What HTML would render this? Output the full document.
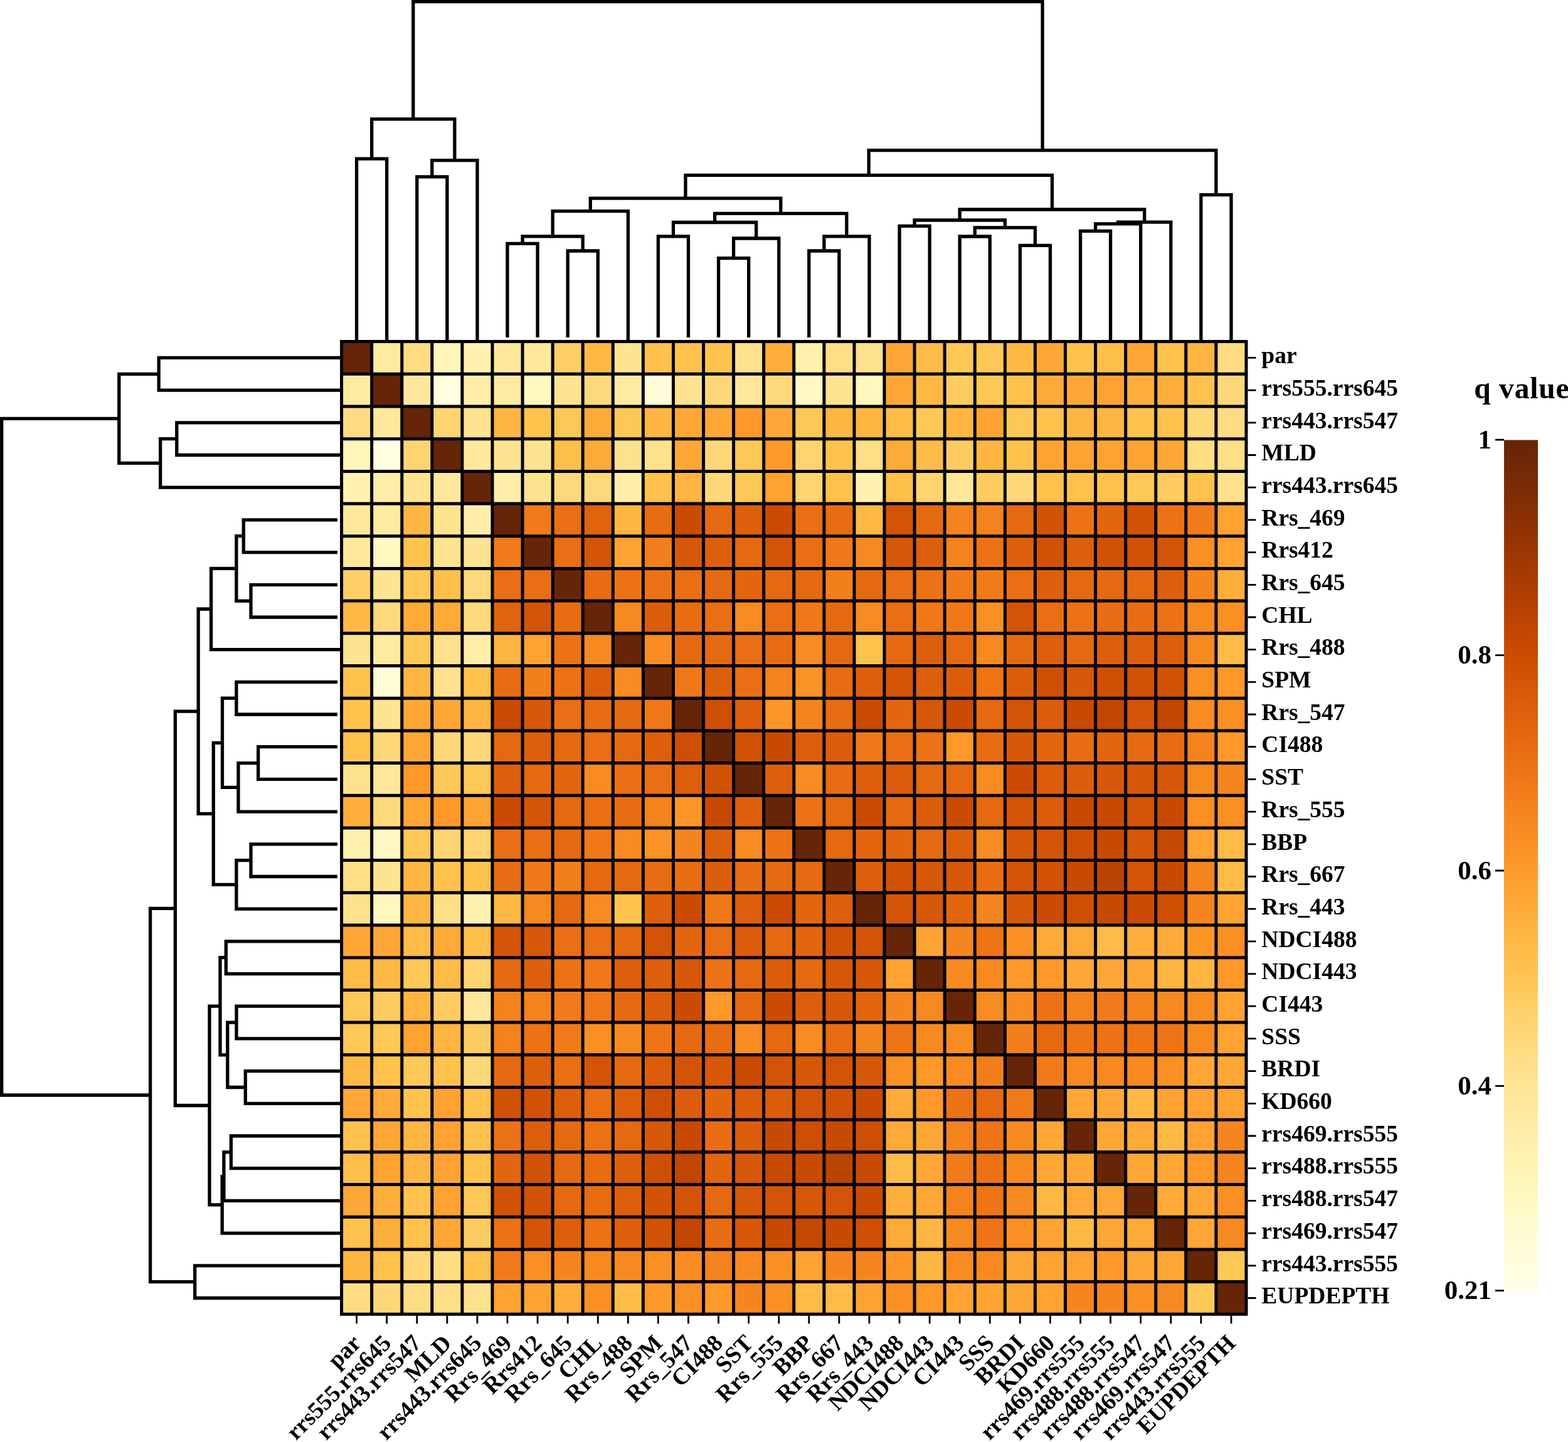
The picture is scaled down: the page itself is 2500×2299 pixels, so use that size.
<!DOCTYPE html><html><head><meta charset="utf-8"><style>html,body{margin:0;padding:0;background:#fff;width:2500px;height:2299px;overflow:hidden}svg{display:block}text{font-family:"Liberation Serif","Times New Roman",serif;font-weight:bold;fill:#000}</style></head><body>
<svg width="2500" height="2299" viewBox="0 0 2500 2299">
<rect width="2500" height="2299" fill="#fff"/>
<rect x="544.6" y="544.6" width="48.38" height="51.99" fill="#662506"/>
<rect x="592.7" y="544.6" width="48.38" height="51.99" fill="#feeba2"/>
<rect x="640.8" y="544.6" width="48.38" height="51.99" fill="#fedc82"/>
<rect x="688.8" y="544.6" width="48.38" height="51.99" fill="#fff5b8"/>
<rect x="736.9" y="544.6" width="48.38" height="51.99" fill="#fff2b1"/>
<rect x="785.0" y="544.6" width="48.38" height="51.99" fill="#fee89b"/>
<rect x="833.1" y="544.6" width="48.38" height="51.99" fill="#fee89b"/>
<rect x="881.2" y="544.6" width="48.38" height="51.99" fill="#fecf67"/>
<rect x="929.2" y="544.6" width="48.38" height="51.99" fill="#feb945"/>
<rect x="977.3" y="544.6" width="48.38" height="51.99" fill="#fee390"/>
<rect x="1025.4" y="544.6" width="48.38" height="51.99" fill="#fec24d"/>
<rect x="1073.5" y="544.6" width="48.38" height="51.99" fill="#fec24d"/>
<rect x="1121.6" y="544.6" width="48.38" height="51.99" fill="#fec24d"/>
<rect x="1169.6" y="544.6" width="48.38" height="51.99" fill="#fee18c"/>
<rect x="1217.7" y="544.6" width="48.38" height="51.99" fill="#feae3b"/>
<rect x="1265.8" y="544.6" width="48.38" height="51.99" fill="#fff0ad"/>
<rect x="1313.9" y="544.6" width="48.38" height="51.99" fill="#fede86"/>
<rect x="1362.0" y="544.6" width="48.38" height="51.99" fill="#fee18c"/>
<rect x="1410.0" y="544.6" width="48.38" height="51.99" fill="#fea736"/>
<rect x="1458.1" y="544.6" width="48.38" height="51.99" fill="#febb47"/>
<rect x="1506.2" y="544.6" width="48.38" height="51.99" fill="#fec857"/>
<rect x="1554.3" y="544.6" width="48.38" height="51.99" fill="#fec857"/>
<rect x="1602.4" y="544.6" width="48.38" height="51.99" fill="#feb945"/>
<rect x="1650.4" y="544.6" width="48.38" height="51.99" fill="#fea736"/>
<rect x="1698.5" y="544.6" width="48.38" height="51.99" fill="#fec24d"/>
<rect x="1746.6" y="544.6" width="48.38" height="51.99" fill="#febf4b"/>
<rect x="1794.7" y="544.6" width="48.38" height="51.99" fill="#fea736"/>
<rect x="1842.8" y="544.6" width="48.38" height="51.99" fill="#fec24d"/>
<rect x="1890.8" y="544.6" width="48.38" height="51.99" fill="#feb541"/>
<rect x="1938.9" y="544.6" width="48.38" height="51.99" fill="#fedc82"/>
<rect x="544.6" y="596.3" width="48.38" height="51.99" fill="#feeba2"/>
<rect x="592.7" y="596.3" width="48.38" height="51.99" fill="#662506"/>
<rect x="640.8" y="596.3" width="48.38" height="51.99" fill="#fee89b"/>
<rect x="688.8" y="596.3" width="48.38" height="51.99" fill="#fffedf"/>
<rect x="736.9" y="596.3" width="48.38" height="51.99" fill="#feeda6"/>
<rect x="785.0" y="596.3" width="48.38" height="51.99" fill="#feeaa0"/>
<rect x="833.1" y="596.3" width="48.38" height="51.99" fill="#fff8c1"/>
<rect x="881.2" y="596.3" width="48.38" height="51.99" fill="#fee390"/>
<rect x="929.2" y="596.3" width="48.38" height="51.99" fill="#fed97c"/>
<rect x="977.3" y="596.3" width="48.38" height="51.99" fill="#feeaa0"/>
<rect x="1025.4" y="596.3" width="48.38" height="51.99" fill="#fffcd8"/>
<rect x="1073.5" y="596.3" width="48.38" height="51.99" fill="#fee390"/>
<rect x="1121.6" y="596.3" width="48.38" height="51.99" fill="#fed778"/>
<rect x="1169.6" y="596.3" width="48.38" height="51.99" fill="#fee799"/>
<rect x="1217.7" y="596.3" width="48.38" height="51.99" fill="#fed97c"/>
<rect x="1265.8" y="596.3" width="48.38" height="51.99" fill="#fff9c5"/>
<rect x="1313.9" y="596.3" width="48.38" height="51.99" fill="#fee390"/>
<rect x="1362.0" y="596.3" width="48.38" height="51.99" fill="#fff7be"/>
<rect x="1410.0" y="596.3" width="48.38" height="51.99" fill="#fea736"/>
<rect x="1458.1" y="596.3" width="48.38" height="51.99" fill="#feb945"/>
<rect x="1506.2" y="596.3" width="48.38" height="51.99" fill="#fecc61"/>
<rect x="1554.3" y="596.3" width="48.38" height="51.99" fill="#fec857"/>
<rect x="1602.4" y="596.3" width="48.38" height="51.99" fill="#fec24d"/>
<rect x="1650.4" y="596.3" width="48.38" height="51.99" fill="#feaa38"/>
<rect x="1698.5" y="596.3" width="48.38" height="51.99" fill="#fea736"/>
<rect x="1746.6" y="596.3" width="48.38" height="51.99" fill="#fea332"/>
<rect x="1794.7" y="596.3" width="48.38" height="51.99" fill="#feae3b"/>
<rect x="1842.8" y="596.3" width="48.38" height="51.99" fill="#feae3b"/>
<rect x="1890.8" y="596.3" width="48.38" height="51.99" fill="#fec24d"/>
<rect x="1938.9" y="596.3" width="48.38" height="51.99" fill="#fed778"/>
<rect x="544.6" y="648.0" width="48.38" height="51.99" fill="#fedc82"/>
<rect x="592.7" y="648.0" width="48.38" height="51.99" fill="#fee89b"/>
<rect x="640.8" y="648.0" width="48.38" height="51.99" fill="#662506"/>
<rect x="688.8" y="648.0" width="48.38" height="51.99" fill="#fed471"/>
<rect x="736.9" y="648.0" width="48.38" height="51.99" fill="#fee390"/>
<rect x="785.0" y="648.0" width="48.38" height="51.99" fill="#feb541"/>
<rect x="833.1" y="648.0" width="48.38" height="51.99" fill="#fec24d"/>
<rect x="881.2" y="648.0" width="48.38" height="51.99" fill="#fec857"/>
<rect x="929.2" y="648.0" width="48.38" height="51.99" fill="#feaa38"/>
<rect x="977.3" y="648.0" width="48.38" height="51.99" fill="#fec857"/>
<rect x="1025.4" y="648.0" width="48.38" height="51.99" fill="#feb541"/>
<rect x="1073.5" y="648.0" width="48.38" height="51.99" fill="#fea736"/>
<rect x="1121.6" y="648.0" width="48.38" height="51.99" fill="#fea736"/>
<rect x="1169.6" y="648.0" width="48.38" height="51.99" fill="#fe9829"/>
<rect x="1217.7" y="648.0" width="48.38" height="51.99" fill="#fea736"/>
<rect x="1265.8" y="648.0" width="48.38" height="51.99" fill="#fec857"/>
<rect x="1313.9" y="648.0" width="48.38" height="51.99" fill="#feb541"/>
<rect x="1362.0" y="648.0" width="48.38" height="51.99" fill="#feb541"/>
<rect x="1410.0" y="648.0" width="48.38" height="51.99" fill="#febb47"/>
<rect x="1458.1" y="648.0" width="48.38" height="51.99" fill="#fec857"/>
<rect x="1506.2" y="648.0" width="48.38" height="51.99" fill="#feb541"/>
<rect x="1554.3" y="648.0" width="48.38" height="51.99" fill="#fea332"/>
<rect x="1602.4" y="648.0" width="48.38" height="51.99" fill="#fec857"/>
<rect x="1650.4" y="648.0" width="48.38" height="51.99" fill="#fec24d"/>
<rect x="1698.5" y="648.0" width="48.38" height="51.99" fill="#feb541"/>
<rect x="1746.6" y="648.0" width="48.38" height="51.99" fill="#feb541"/>
<rect x="1794.7" y="648.0" width="48.38" height="51.99" fill="#fec24d"/>
<rect x="1842.8" y="648.0" width="48.38" height="51.99" fill="#fec24d"/>
<rect x="1890.8" y="648.0" width="48.38" height="51.99" fill="#fed778"/>
<rect x="1938.9" y="648.0" width="48.38" height="51.99" fill="#fedc82"/>
<rect x="544.6" y="699.7" width="48.38" height="51.99" fill="#fff5b8"/>
<rect x="592.7" y="699.7" width="48.38" height="51.99" fill="#fffedf"/>
<rect x="640.8" y="699.7" width="48.38" height="51.99" fill="#fed471"/>
<rect x="688.8" y="699.7" width="48.38" height="51.99" fill="#662506"/>
<rect x="736.9" y="699.7" width="48.38" height="51.99" fill="#fee89b"/>
<rect x="785.0" y="699.7" width="48.38" height="51.99" fill="#fee390"/>
<rect x="833.1" y="699.7" width="48.38" height="51.99" fill="#fee390"/>
<rect x="881.2" y="699.7" width="48.38" height="51.99" fill="#febf4b"/>
<rect x="929.2" y="699.7" width="48.38" height="51.99" fill="#feaa38"/>
<rect x="977.3" y="699.7" width="48.38" height="51.99" fill="#fee18c"/>
<rect x="1025.4" y="699.7" width="48.38" height="51.99" fill="#fee18c"/>
<rect x="1073.5" y="699.7" width="48.38" height="51.99" fill="#fea736"/>
<rect x="1121.6" y="699.7" width="48.38" height="51.99" fill="#fed778"/>
<rect x="1169.6" y="699.7" width="48.38" height="51.99" fill="#fec857"/>
<rect x="1217.7" y="699.7" width="48.38" height="51.99" fill="#fe9829"/>
<rect x="1265.8" y="699.7" width="48.38" height="51.99" fill="#fed471"/>
<rect x="1313.9" y="699.7" width="48.38" height="51.99" fill="#fec24d"/>
<rect x="1362.0" y="699.7" width="48.38" height="51.99" fill="#fede86"/>
<rect x="1410.0" y="699.7" width="48.38" height="51.99" fill="#feaa38"/>
<rect x="1458.1" y="699.7" width="48.38" height="51.99" fill="#febb47"/>
<rect x="1506.2" y="699.7" width="48.38" height="51.99" fill="#fecc61"/>
<rect x="1554.3" y="699.7" width="48.38" height="51.99" fill="#feb541"/>
<rect x="1602.4" y="699.7" width="48.38" height="51.99" fill="#fec24d"/>
<rect x="1650.4" y="699.7" width="48.38" height="51.99" fill="#fea332"/>
<rect x="1698.5" y="699.7" width="48.38" height="51.99" fill="#fea332"/>
<rect x="1746.6" y="699.7" width="48.38" height="51.99" fill="#fea332"/>
<rect x="1794.7" y="699.7" width="48.38" height="51.99" fill="#fea332"/>
<rect x="1842.8" y="699.7" width="48.38" height="51.99" fill="#fea736"/>
<rect x="1890.8" y="699.7" width="48.38" height="51.99" fill="#fedc82"/>
<rect x="1938.9" y="699.7" width="48.38" height="51.99" fill="#fede86"/>
<rect x="544.6" y="751.4" width="48.38" height="51.99" fill="#fff2b1"/>
<rect x="592.7" y="751.4" width="48.38" height="51.99" fill="#feeda6"/>
<rect x="640.8" y="751.4" width="48.38" height="51.99" fill="#fee390"/>
<rect x="688.8" y="751.4" width="48.38" height="51.99" fill="#fee89b"/>
<rect x="736.9" y="751.4" width="48.38" height="51.99" fill="#662506"/>
<rect x="785.0" y="751.4" width="48.38" height="51.99" fill="#ffeea9"/>
<rect x="833.1" y="751.4" width="48.38" height="51.99" fill="#fee390"/>
<rect x="881.2" y="751.4" width="48.38" height="51.99" fill="#fed97c"/>
<rect x="929.2" y="751.4" width="48.38" height="51.99" fill="#fed97c"/>
<rect x="977.3" y="751.4" width="48.38" height="51.99" fill="#ffeea9"/>
<rect x="1025.4" y="751.4" width="48.38" height="51.99" fill="#fec24d"/>
<rect x="1073.5" y="751.4" width="48.38" height="51.99" fill="#feb541"/>
<rect x="1121.6" y="751.4" width="48.38" height="51.99" fill="#fed778"/>
<rect x="1169.6" y="751.4" width="48.38" height="51.99" fill="#fec857"/>
<rect x="1217.7" y="751.4" width="48.38" height="51.99" fill="#fea332"/>
<rect x="1265.8" y="751.4" width="48.38" height="51.99" fill="#fed471"/>
<rect x="1313.9" y="751.4" width="48.38" height="51.99" fill="#fec24d"/>
<rect x="1362.0" y="751.4" width="48.38" height="51.99" fill="#fff2b1"/>
<rect x="1410.0" y="751.4" width="48.38" height="51.99" fill="#febf4b"/>
<rect x="1458.1" y="751.4" width="48.38" height="51.99" fill="#fed471"/>
<rect x="1506.2" y="751.4" width="48.38" height="51.99" fill="#fee799"/>
<rect x="1554.3" y="751.4" width="48.38" height="51.99" fill="#fecc61"/>
<rect x="1602.4" y="751.4" width="48.38" height="51.99" fill="#fed778"/>
<rect x="1650.4" y="751.4" width="48.38" height="51.99" fill="#fec24d"/>
<rect x="1698.5" y="751.4" width="48.38" height="51.99" fill="#fec24d"/>
<rect x="1746.6" y="751.4" width="48.38" height="51.99" fill="#fec24d"/>
<rect x="1794.7" y="751.4" width="48.38" height="51.99" fill="#fec857"/>
<rect x="1842.8" y="751.4" width="48.38" height="51.99" fill="#fecc61"/>
<rect x="1890.8" y="751.4" width="48.38" height="51.99" fill="#fec24d"/>
<rect x="1938.9" y="751.4" width="48.38" height="51.99" fill="#fee18c"/>
<rect x="544.6" y="803.0" width="48.38" height="51.99" fill="#fee89b"/>
<rect x="592.7" y="803.0" width="48.38" height="51.99" fill="#feeaa0"/>
<rect x="640.8" y="803.0" width="48.38" height="51.99" fill="#feb541"/>
<rect x="688.8" y="803.0" width="48.38" height="51.99" fill="#fee390"/>
<rect x="736.9" y="803.0" width="48.38" height="51.99" fill="#ffeea9"/>
<rect x="785.0" y="803.0" width="48.38" height="51.99" fill="#662506"/>
<rect x="833.1" y="803.0" width="48.38" height="51.99" fill="#f17b1a"/>
<rect x="881.2" y="803.0" width="48.38" height="51.99" fill="#ea6e13"/>
<rect x="929.2" y="803.0" width="48.38" height="51.99" fill="#e0630d"/>
<rect x="977.3" y="803.0" width="48.38" height="51.99" fill="#feb541"/>
<rect x="1025.4" y="803.0" width="48.38" height="51.99" fill="#e86c12"/>
<rect x="1073.5" y="803.0" width="48.38" height="51.99" fill="#cb4b02"/>
<rect x="1121.6" y="803.0" width="48.38" height="51.99" fill="#e56910"/>
<rect x="1169.6" y="803.0" width="48.38" height="51.99" fill="#dd5f0c"/>
<rect x="1217.7" y="803.0" width="48.38" height="51.99" fill="#cb4b02"/>
<rect x="1265.8" y="803.0" width="48.38" height="51.99" fill="#ea6e13"/>
<rect x="1313.9" y="803.0" width="48.38" height="51.99" fill="#e86c12"/>
<rect x="1362.0" y="803.0" width="48.38" height="51.99" fill="#feb945"/>
<rect x="1410.0" y="803.0" width="48.38" height="51.99" fill="#d35406"/>
<rect x="1458.1" y="803.0" width="48.38" height="51.99" fill="#e56910"/>
<rect x="1506.2" y="803.0" width="48.38" height="51.99" fill="#f4821d"/>
<rect x="1554.3" y="803.0" width="48.38" height="51.99" fill="#f4821d"/>
<rect x="1602.4" y="803.0" width="48.38" height="51.99" fill="#e56910"/>
<rect x="1650.4" y="803.0" width="48.38" height="51.99" fill="#d15205"/>
<rect x="1698.5" y="803.0" width="48.38" height="51.99" fill="#ed7215"/>
<rect x="1746.6" y="803.0" width="48.38" height="51.99" fill="#e3660f"/>
<rect x="1794.7" y="803.0" width="48.38" height="51.99" fill="#d15205"/>
<rect x="1842.8" y="803.0" width="48.38" height="51.99" fill="#ed7215"/>
<rect x="1890.8" y="803.0" width="48.38" height="51.99" fill="#f17b1a"/>
<rect x="1938.9" y="803.0" width="48.38" height="51.99" fill="#fea332"/>
<rect x="544.6" y="854.7" width="48.38" height="51.99" fill="#fee89b"/>
<rect x="592.7" y="854.7" width="48.38" height="51.99" fill="#fff8c1"/>
<rect x="640.8" y="854.7" width="48.38" height="51.99" fill="#fec24d"/>
<rect x="688.8" y="854.7" width="48.38" height="51.99" fill="#fee390"/>
<rect x="736.9" y="854.7" width="48.38" height="51.99" fill="#fee390"/>
<rect x="785.0" y="854.7" width="48.38" height="51.99" fill="#f17b1a"/>
<rect x="833.1" y="854.7" width="48.38" height="51.99" fill="#662506"/>
<rect x="881.2" y="854.7" width="48.38" height="51.99" fill="#ea6e13"/>
<rect x="929.2" y="854.7" width="48.38" height="51.99" fill="#d35406"/>
<rect x="977.3" y="854.7" width="48.38" height="51.99" fill="#fea332"/>
<rect x="1025.4" y="854.7" width="48.38" height="51.99" fill="#f27f1b"/>
<rect x="1073.5" y="854.7" width="48.38" height="51.99" fill="#d65808"/>
<rect x="1121.6" y="854.7" width="48.38" height="51.99" fill="#dd5f0c"/>
<rect x="1169.6" y="854.7" width="48.38" height="51.99" fill="#e56910"/>
<rect x="1217.7" y="854.7" width="48.38" height="51.99" fill="#d35406"/>
<rect x="1265.8" y="854.7" width="48.38" height="51.99" fill="#ea6e13"/>
<rect x="1313.9" y="854.7" width="48.38" height="51.99" fill="#f07818"/>
<rect x="1362.0" y="854.7" width="48.38" height="51.99" fill="#f78921"/>
<rect x="1410.0" y="854.7" width="48.38" height="51.99" fill="#d65808"/>
<rect x="1458.1" y="854.7" width="48.38" height="51.99" fill="#dd5f0c"/>
<rect x="1506.2" y="854.7" width="48.38" height="51.99" fill="#f4821d"/>
<rect x="1554.3" y="854.7" width="48.38" height="51.99" fill="#ed7215"/>
<rect x="1602.4" y="854.7" width="48.38" height="51.99" fill="#dd5f0c"/>
<rect x="1650.4" y="854.7" width="48.38" height="51.99" fill="#d15205"/>
<rect x="1698.5" y="854.7" width="48.38" height="51.99" fill="#dd5f0c"/>
<rect x="1746.6" y="854.7" width="48.38" height="51.99" fill="#d15205"/>
<rect x="1794.7" y="854.7" width="48.38" height="51.99" fill="#d15205"/>
<rect x="1842.8" y="854.7" width="48.38" height="51.99" fill="#d35406"/>
<rect x="1890.8" y="854.7" width="48.38" height="51.99" fill="#fa8f24"/>
<rect x="1938.9" y="854.7" width="48.38" height="51.99" fill="#fea332"/>
<rect x="544.6" y="906.4" width="48.38" height="51.99" fill="#fecf67"/>
<rect x="592.7" y="906.4" width="48.38" height="51.99" fill="#fee390"/>
<rect x="640.8" y="906.4" width="48.38" height="51.99" fill="#fec857"/>
<rect x="688.8" y="906.4" width="48.38" height="51.99" fill="#febf4b"/>
<rect x="736.9" y="906.4" width="48.38" height="51.99" fill="#fed97c"/>
<rect x="785.0" y="906.4" width="48.38" height="51.99" fill="#ea6e13"/>
<rect x="833.1" y="906.4" width="48.38" height="51.99" fill="#ea6e13"/>
<rect x="881.2" y="906.4" width="48.38" height="51.99" fill="#662506"/>
<rect x="929.2" y="906.4" width="48.38" height="51.99" fill="#e86c12"/>
<rect x="977.3" y="906.4" width="48.38" height="51.99" fill="#ed7215"/>
<rect x="1025.4" y="906.4" width="48.38" height="51.99" fill="#ed7215"/>
<rect x="1073.5" y="906.4" width="48.38" height="51.99" fill="#ea6e13"/>
<rect x="1121.6" y="906.4" width="48.38" height="51.99" fill="#e56910"/>
<rect x="1169.6" y="906.4" width="48.38" height="51.99" fill="#e3660f"/>
<rect x="1217.7" y="906.4" width="48.38" height="51.99" fill="#e56910"/>
<rect x="1265.8" y="906.4" width="48.38" height="51.99" fill="#e56910"/>
<rect x="1313.9" y="906.4" width="48.38" height="51.99" fill="#f27f1b"/>
<rect x="1362.0" y="906.4" width="48.38" height="51.99" fill="#e56910"/>
<rect x="1410.0" y="906.4" width="48.38" height="51.99" fill="#ea6e13"/>
<rect x="1458.1" y="906.4" width="48.38" height="51.99" fill="#ed7215"/>
<rect x="1506.2" y="906.4" width="48.38" height="51.99" fill="#f17b1a"/>
<rect x="1554.3" y="906.4" width="48.38" height="51.99" fill="#f17b1a"/>
<rect x="1602.4" y="906.4" width="48.38" height="51.99" fill="#ea6e13"/>
<rect x="1650.4" y="906.4" width="48.38" height="51.99" fill="#dd5f0c"/>
<rect x="1698.5" y="906.4" width="48.38" height="51.99" fill="#e56910"/>
<rect x="1746.6" y="906.4" width="48.38" height="51.99" fill="#e56910"/>
<rect x="1794.7" y="906.4" width="48.38" height="51.99" fill="#e56910"/>
<rect x="1842.8" y="906.4" width="48.38" height="51.99" fill="#dd5f0c"/>
<rect x="1890.8" y="906.4" width="48.38" height="51.99" fill="#f5851f"/>
<rect x="1938.9" y="906.4" width="48.38" height="51.99" fill="#feae3b"/>
<rect x="544.6" y="958.1" width="48.38" height="51.99" fill="#feb945"/>
<rect x="592.7" y="958.1" width="48.38" height="51.99" fill="#fed97c"/>
<rect x="640.8" y="958.1" width="48.38" height="51.99" fill="#feaa38"/>
<rect x="688.8" y="958.1" width="48.38" height="51.99" fill="#feaa38"/>
<rect x="736.9" y="958.1" width="48.38" height="51.99" fill="#fed97c"/>
<rect x="785.0" y="958.1" width="48.38" height="51.99" fill="#e0630d"/>
<rect x="833.1" y="958.1" width="48.38" height="51.99" fill="#d35406"/>
<rect x="881.2" y="958.1" width="48.38" height="51.99" fill="#e86c12"/>
<rect x="929.2" y="958.1" width="48.38" height="51.99" fill="#662506"/>
<rect x="977.3" y="958.1" width="48.38" height="51.99" fill="#f78921"/>
<rect x="1025.4" y="958.1" width="48.38" height="51.99" fill="#db5d0b"/>
<rect x="1073.5" y="958.1" width="48.38" height="51.99" fill="#e86c12"/>
<rect x="1121.6" y="958.1" width="48.38" height="51.99" fill="#ea6e13"/>
<rect x="1169.6" y="958.1" width="48.38" height="51.99" fill="#f88b22"/>
<rect x="1217.7" y="958.1" width="48.38" height="51.99" fill="#ea6e13"/>
<rect x="1265.8" y="958.1" width="48.38" height="51.99" fill="#f07818"/>
<rect x="1313.9" y="958.1" width="48.38" height="51.99" fill="#e56910"/>
<rect x="1362.0" y="958.1" width="48.38" height="51.99" fill="#f88b22"/>
<rect x="1410.0" y="958.1" width="48.38" height="51.99" fill="#ea6e13"/>
<rect x="1458.1" y="958.1" width="48.38" height="51.99" fill="#f07818"/>
<rect x="1506.2" y="958.1" width="48.38" height="51.99" fill="#f07818"/>
<rect x="1554.3" y="958.1" width="48.38" height="51.99" fill="#fa8f24"/>
<rect x="1602.4" y="958.1" width="48.38" height="51.99" fill="#d35406"/>
<rect x="1650.4" y="958.1" width="48.38" height="51.99" fill="#ea6e13"/>
<rect x="1698.5" y="958.1" width="48.38" height="51.99" fill="#ed7215"/>
<rect x="1746.6" y="958.1" width="48.38" height="51.99" fill="#e86c12"/>
<rect x="1794.7" y="958.1" width="48.38" height="51.99" fill="#e86c12"/>
<rect x="1842.8" y="958.1" width="48.38" height="51.99" fill="#ed7215"/>
<rect x="1890.8" y="958.1" width="48.38" height="51.99" fill="#f78921"/>
<rect x="1938.9" y="958.1" width="48.38" height="51.99" fill="#fa8f24"/>
<rect x="544.6" y="1009.8" width="48.38" height="51.99" fill="#fee390"/>
<rect x="592.7" y="1009.8" width="48.38" height="51.99" fill="#feeaa0"/>
<rect x="640.8" y="1009.8" width="48.38" height="51.99" fill="#fec857"/>
<rect x="688.8" y="1009.8" width="48.38" height="51.99" fill="#fee18c"/>
<rect x="736.9" y="1009.8" width="48.38" height="51.99" fill="#ffeea9"/>
<rect x="785.0" y="1009.8" width="48.38" height="51.99" fill="#feb541"/>
<rect x="833.1" y="1009.8" width="48.38" height="51.99" fill="#fea332"/>
<rect x="881.2" y="1009.8" width="48.38" height="51.99" fill="#ed7215"/>
<rect x="929.2" y="1009.8" width="48.38" height="51.99" fill="#f78921"/>
<rect x="977.3" y="1009.8" width="48.38" height="51.99" fill="#662506"/>
<rect x="1025.4" y="1009.8" width="48.38" height="51.99" fill="#f88b22"/>
<rect x="1073.5" y="1009.8" width="48.38" height="51.99" fill="#e56910"/>
<rect x="1121.6" y="1009.8" width="48.38" height="51.99" fill="#e56910"/>
<rect x="1169.6" y="1009.8" width="48.38" height="51.99" fill="#ea6e13"/>
<rect x="1217.7" y="1009.8" width="48.38" height="51.99" fill="#e86c12"/>
<rect x="1265.8" y="1009.8" width="48.38" height="51.99" fill="#f88b22"/>
<rect x="1313.9" y="1009.8" width="48.38" height="51.99" fill="#e56910"/>
<rect x="1362.0" y="1009.8" width="48.38" height="51.99" fill="#fec24d"/>
<rect x="1410.0" y="1009.8" width="48.38" height="51.99" fill="#e56910"/>
<rect x="1458.1" y="1009.8" width="48.38" height="51.99" fill="#dd5f0c"/>
<rect x="1506.2" y="1009.8" width="48.38" height="51.99" fill="#e56910"/>
<rect x="1554.3" y="1009.8" width="48.38" height="51.99" fill="#f78921"/>
<rect x="1602.4" y="1009.8" width="48.38" height="51.99" fill="#e56910"/>
<rect x="1650.4" y="1009.8" width="48.38" height="51.99" fill="#dd5f0c"/>
<rect x="1698.5" y="1009.8" width="48.38" height="51.99" fill="#e56910"/>
<rect x="1746.6" y="1009.8" width="48.38" height="51.99" fill="#dd5f0c"/>
<rect x="1794.7" y="1009.8" width="48.38" height="51.99" fill="#dd5f0c"/>
<rect x="1842.8" y="1009.8" width="48.38" height="51.99" fill="#dd5f0c"/>
<rect x="1890.8" y="1009.8" width="48.38" height="51.99" fill="#f78921"/>
<rect x="1938.9" y="1009.8" width="48.38" height="51.99" fill="#febb47"/>
<rect x="544.6" y="1061.5" width="48.38" height="51.99" fill="#fec24d"/>
<rect x="592.7" y="1061.5" width="48.38" height="51.99" fill="#fffcd8"/>
<rect x="640.8" y="1061.5" width="48.38" height="51.99" fill="#feb541"/>
<rect x="688.8" y="1061.5" width="48.38" height="51.99" fill="#fee18c"/>
<rect x="736.9" y="1061.5" width="48.38" height="51.99" fill="#fec24d"/>
<rect x="785.0" y="1061.5" width="48.38" height="51.99" fill="#e86c12"/>
<rect x="833.1" y="1061.5" width="48.38" height="51.99" fill="#f27f1b"/>
<rect x="881.2" y="1061.5" width="48.38" height="51.99" fill="#ed7215"/>
<rect x="929.2" y="1061.5" width="48.38" height="51.99" fill="#db5d0b"/>
<rect x="977.3" y="1061.5" width="48.38" height="51.99" fill="#f88b22"/>
<rect x="1025.4" y="1061.5" width="48.38" height="51.99" fill="#662506"/>
<rect x="1073.5" y="1061.5" width="48.38" height="51.99" fill="#f07818"/>
<rect x="1121.6" y="1061.5" width="48.38" height="51.99" fill="#dd5f0c"/>
<rect x="1169.6" y="1061.5" width="48.38" height="51.99" fill="#ea6e13"/>
<rect x="1217.7" y="1061.5" width="48.38" height="51.99" fill="#f4821d"/>
<rect x="1265.8" y="1061.5" width="48.38" height="51.99" fill="#fb9225"/>
<rect x="1313.9" y="1061.5" width="48.38" height="51.99" fill="#e86c12"/>
<rect x="1362.0" y="1061.5" width="48.38" height="51.99" fill="#dd5f0c"/>
<rect x="1410.0" y="1061.5" width="48.38" height="51.99" fill="#d35406"/>
<rect x="1458.1" y="1061.5" width="48.38" height="51.99" fill="#dd5f0c"/>
<rect x="1506.2" y="1061.5" width="48.38" height="51.99" fill="#db5d0b"/>
<rect x="1554.3" y="1061.5" width="48.38" height="51.99" fill="#ee7416"/>
<rect x="1602.4" y="1061.5" width="48.38" height="51.99" fill="#db5d0b"/>
<rect x="1650.4" y="1061.5" width="48.38" height="51.99" fill="#ce4f03"/>
<rect x="1698.5" y="1061.5" width="48.38" height="51.99" fill="#d65808"/>
<rect x="1746.6" y="1061.5" width="48.38" height="51.99" fill="#ce4f03"/>
<rect x="1794.7" y="1061.5" width="48.38" height="51.99" fill="#d15205"/>
<rect x="1842.8" y="1061.5" width="48.38" height="51.99" fill="#d15205"/>
<rect x="1890.8" y="1061.5" width="48.38" height="51.99" fill="#fa8f24"/>
<rect x="1938.9" y="1061.5" width="48.38" height="51.99" fill="#fe9829"/>
<rect x="544.6" y="1113.2" width="48.38" height="51.99" fill="#fec24d"/>
<rect x="592.7" y="1113.2" width="48.38" height="51.99" fill="#fee390"/>
<rect x="640.8" y="1113.2" width="48.38" height="51.99" fill="#fea736"/>
<rect x="688.8" y="1113.2" width="48.38" height="51.99" fill="#fea736"/>
<rect x="736.9" y="1113.2" width="48.38" height="51.99" fill="#feb541"/>
<rect x="785.0" y="1113.2" width="48.38" height="51.99" fill="#cb4b02"/>
<rect x="833.1" y="1113.2" width="48.38" height="51.99" fill="#d65808"/>
<rect x="881.2" y="1113.2" width="48.38" height="51.99" fill="#ea6e13"/>
<rect x="929.2" y="1113.2" width="48.38" height="51.99" fill="#e86c12"/>
<rect x="977.3" y="1113.2" width="48.38" height="51.99" fill="#e56910"/>
<rect x="1025.4" y="1113.2" width="48.38" height="51.99" fill="#f07818"/>
<rect x="1073.5" y="1113.2" width="48.38" height="51.99" fill="#662506"/>
<rect x="1121.6" y="1113.2" width="48.38" height="51.99" fill="#ce4f03"/>
<rect x="1169.6" y="1113.2" width="48.38" height="51.99" fill="#dd5f0c"/>
<rect x="1217.7" y="1113.2" width="48.38" height="51.99" fill="#fd9627"/>
<rect x="1265.8" y="1113.2" width="48.38" height="51.99" fill="#f5851f"/>
<rect x="1313.9" y="1113.2" width="48.38" height="51.99" fill="#e86c12"/>
<rect x="1362.0" y="1113.2" width="48.38" height="51.99" fill="#cb4b02"/>
<rect x="1410.0" y="1113.2" width="48.38" height="51.99" fill="#e3660f"/>
<rect x="1458.1" y="1113.2" width="48.38" height="51.99" fill="#d65808"/>
<rect x="1506.2" y="1113.2" width="48.38" height="51.99" fill="#cb4b02"/>
<rect x="1554.3" y="1113.2" width="48.38" height="51.99" fill="#e56910"/>
<rect x="1602.4" y="1113.2" width="48.38" height="51.99" fill="#d35406"/>
<rect x="1650.4" y="1113.2" width="48.38" height="51.99" fill="#db5d0b"/>
<rect x="1698.5" y="1113.2" width="48.38" height="51.99" fill="#c84a02"/>
<rect x="1746.6" y="1113.2" width="48.38" height="51.99" fill="#c04602"/>
<rect x="1794.7" y="1113.2" width="48.38" height="51.99" fill="#d35406"/>
<rect x="1842.8" y="1113.2" width="48.38" height="51.99" fill="#c04602"/>
<rect x="1890.8" y="1113.2" width="48.38" height="51.99" fill="#f88b22"/>
<rect x="1938.9" y="1113.2" width="48.38" height="51.99" fill="#fa8f24"/>
<rect x="544.6" y="1164.9" width="48.38" height="51.99" fill="#fec24d"/>
<rect x="592.7" y="1164.9" width="48.38" height="51.99" fill="#fed778"/>
<rect x="640.8" y="1164.9" width="48.38" height="51.99" fill="#fea736"/>
<rect x="688.8" y="1164.9" width="48.38" height="51.99" fill="#fed778"/>
<rect x="736.9" y="1164.9" width="48.38" height="51.99" fill="#fed778"/>
<rect x="785.0" y="1164.9" width="48.38" height="51.99" fill="#e56910"/>
<rect x="833.1" y="1164.9" width="48.38" height="51.99" fill="#dd5f0c"/>
<rect x="881.2" y="1164.9" width="48.38" height="51.99" fill="#e56910"/>
<rect x="929.2" y="1164.9" width="48.38" height="51.99" fill="#ea6e13"/>
<rect x="977.3" y="1164.9" width="48.38" height="51.99" fill="#e56910"/>
<rect x="1025.4" y="1164.9" width="48.38" height="51.99" fill="#dd5f0c"/>
<rect x="1073.5" y="1164.9" width="48.38" height="51.99" fill="#ce4f03"/>
<rect x="1121.6" y="1164.9" width="48.38" height="51.99" fill="#662506"/>
<rect x="1169.6" y="1164.9" width="48.38" height="51.99" fill="#d15205"/>
<rect x="1217.7" y="1164.9" width="48.38" height="51.99" fill="#c84a02"/>
<rect x="1265.8" y="1164.9" width="48.38" height="51.99" fill="#dd5f0c"/>
<rect x="1313.9" y="1164.9" width="48.38" height="51.99" fill="#db5d0b"/>
<rect x="1362.0" y="1164.9" width="48.38" height="51.99" fill="#f07818"/>
<rect x="1410.0" y="1164.9" width="48.38" height="51.99" fill="#ea6e13"/>
<rect x="1458.1" y="1164.9" width="48.38" height="51.99" fill="#ed7215"/>
<rect x="1506.2" y="1164.9" width="48.38" height="51.99" fill="#fe9829"/>
<rect x="1554.3" y="1164.9" width="48.38" height="51.99" fill="#e86c12"/>
<rect x="1602.4" y="1164.9" width="48.38" height="51.99" fill="#d65808"/>
<rect x="1650.4" y="1164.9" width="48.38" height="51.99" fill="#e3660f"/>
<rect x="1698.5" y="1164.9" width="48.38" height="51.99" fill="#e86c12"/>
<rect x="1746.6" y="1164.9" width="48.38" height="51.99" fill="#e3660f"/>
<rect x="1794.7" y="1164.9" width="48.38" height="51.99" fill="#e56910"/>
<rect x="1842.8" y="1164.9" width="48.38" height="51.99" fill="#e86c12"/>
<rect x="1890.8" y="1164.9" width="48.38" height="51.99" fill="#f4821d"/>
<rect x="1938.9" y="1164.9" width="48.38" height="51.99" fill="#fe9829"/>
<rect x="544.6" y="1216.6" width="48.38" height="51.99" fill="#fee18c"/>
<rect x="592.7" y="1216.6" width="48.38" height="51.99" fill="#fee799"/>
<rect x="640.8" y="1216.6" width="48.38" height="51.99" fill="#fe9829"/>
<rect x="688.8" y="1216.6" width="48.38" height="51.99" fill="#fec857"/>
<rect x="736.9" y="1216.6" width="48.38" height="51.99" fill="#fec857"/>
<rect x="785.0" y="1216.6" width="48.38" height="51.99" fill="#dd5f0c"/>
<rect x="833.1" y="1216.6" width="48.38" height="51.99" fill="#e56910"/>
<rect x="881.2" y="1216.6" width="48.38" height="51.99" fill="#e3660f"/>
<rect x="929.2" y="1216.6" width="48.38" height="51.99" fill="#f88b22"/>
<rect x="977.3" y="1216.6" width="48.38" height="51.99" fill="#ea6e13"/>
<rect x="1025.4" y="1216.6" width="48.38" height="51.99" fill="#ea6e13"/>
<rect x="1073.5" y="1216.6" width="48.38" height="51.99" fill="#dd5f0c"/>
<rect x="1121.6" y="1216.6" width="48.38" height="51.99" fill="#d15205"/>
<rect x="1169.6" y="1216.6" width="48.38" height="51.99" fill="#662506"/>
<rect x="1217.7" y="1216.6" width="48.38" height="51.99" fill="#dd5f0c"/>
<rect x="1265.8" y="1216.6" width="48.38" height="51.99" fill="#f88b22"/>
<rect x="1313.9" y="1216.6" width="48.38" height="51.99" fill="#e86c12"/>
<rect x="1362.0" y="1216.6" width="48.38" height="51.99" fill="#dd5f0c"/>
<rect x="1410.0" y="1216.6" width="48.38" height="51.99" fill="#db5d0b"/>
<rect x="1458.1" y="1216.6" width="48.38" height="51.99" fill="#e56910"/>
<rect x="1506.2" y="1216.6" width="48.38" height="51.99" fill="#e56910"/>
<rect x="1554.3" y="1216.6" width="48.38" height="51.99" fill="#f88b22"/>
<rect x="1602.4" y="1216.6" width="48.38" height="51.99" fill="#cb4b02"/>
<rect x="1650.4" y="1216.6" width="48.38" height="51.99" fill="#db5d0b"/>
<rect x="1698.5" y="1216.6" width="48.38" height="51.99" fill="#db5d0b"/>
<rect x="1746.6" y="1216.6" width="48.38" height="51.99" fill="#d65808"/>
<rect x="1794.7" y="1216.6" width="48.38" height="51.99" fill="#d65808"/>
<rect x="1842.8" y="1216.6" width="48.38" height="51.99" fill="#d65808"/>
<rect x="1890.8" y="1216.6" width="48.38" height="51.99" fill="#f78921"/>
<rect x="1938.9" y="1216.6" width="48.38" height="51.99" fill="#f5851f"/>
<rect x="544.6" y="1268.3" width="48.38" height="51.99" fill="#feae3b"/>
<rect x="592.7" y="1268.3" width="48.38" height="51.99" fill="#fed97c"/>
<rect x="640.8" y="1268.3" width="48.38" height="51.99" fill="#fea736"/>
<rect x="688.8" y="1268.3" width="48.38" height="51.99" fill="#fe9829"/>
<rect x="736.9" y="1268.3" width="48.38" height="51.99" fill="#fea332"/>
<rect x="785.0" y="1268.3" width="48.38" height="51.99" fill="#cb4b02"/>
<rect x="833.1" y="1268.3" width="48.38" height="51.99" fill="#d35406"/>
<rect x="881.2" y="1268.3" width="48.38" height="51.99" fill="#e56910"/>
<rect x="929.2" y="1268.3" width="48.38" height="51.99" fill="#ea6e13"/>
<rect x="977.3" y="1268.3" width="48.38" height="51.99" fill="#e86c12"/>
<rect x="1025.4" y="1268.3" width="48.38" height="51.99" fill="#f4821d"/>
<rect x="1073.5" y="1268.3" width="48.38" height="51.99" fill="#fd9627"/>
<rect x="1121.6" y="1268.3" width="48.38" height="51.99" fill="#c84a02"/>
<rect x="1169.6" y="1268.3" width="48.38" height="51.99" fill="#dd5f0c"/>
<rect x="1217.7" y="1268.3" width="48.38" height="51.99" fill="#662506"/>
<rect x="1265.8" y="1268.3" width="48.38" height="51.99" fill="#ed7215"/>
<rect x="1313.9" y="1268.3" width="48.38" height="51.99" fill="#e56910"/>
<rect x="1362.0" y="1268.3" width="48.38" height="51.99" fill="#cb4b02"/>
<rect x="1410.0" y="1268.3" width="48.38" height="51.99" fill="#e56910"/>
<rect x="1458.1" y="1268.3" width="48.38" height="51.99" fill="#db5d0b"/>
<rect x="1506.2" y="1268.3" width="48.38" height="51.99" fill="#cb4b02"/>
<rect x="1554.3" y="1268.3" width="48.38" height="51.99" fill="#e56910"/>
<rect x="1602.4" y="1268.3" width="48.38" height="51.99" fill="#d35406"/>
<rect x="1650.4" y="1268.3" width="48.38" height="51.99" fill="#db5d0b"/>
<rect x="1698.5" y="1268.3" width="48.38" height="51.99" fill="#c84a02"/>
<rect x="1746.6" y="1268.3" width="48.38" height="51.99" fill="#c84a02"/>
<rect x="1794.7" y="1268.3" width="48.38" height="51.99" fill="#d35406"/>
<rect x="1842.8" y="1268.3" width="48.38" height="51.99" fill="#c84a02"/>
<rect x="1890.8" y="1268.3" width="48.38" height="51.99" fill="#fa8f24"/>
<rect x="1938.9" y="1268.3" width="48.38" height="51.99" fill="#fa8f24"/>
<rect x="544.6" y="1319.9" width="48.38" height="51.99" fill="#fff0ad"/>
<rect x="592.7" y="1319.9" width="48.38" height="51.99" fill="#fff9c5"/>
<rect x="640.8" y="1319.9" width="48.38" height="51.99" fill="#fec857"/>
<rect x="688.8" y="1319.9" width="48.38" height="51.99" fill="#fed471"/>
<rect x="736.9" y="1319.9" width="48.38" height="51.99" fill="#fed471"/>
<rect x="785.0" y="1319.9" width="48.38" height="51.99" fill="#ea6e13"/>
<rect x="833.1" y="1319.9" width="48.38" height="51.99" fill="#ea6e13"/>
<rect x="881.2" y="1319.9" width="48.38" height="51.99" fill="#e56910"/>
<rect x="929.2" y="1319.9" width="48.38" height="51.99" fill="#f07818"/>
<rect x="977.3" y="1319.9" width="48.38" height="51.99" fill="#f88b22"/>
<rect x="1025.4" y="1319.9" width="48.38" height="51.99" fill="#fb9225"/>
<rect x="1073.5" y="1319.9" width="48.38" height="51.99" fill="#f5851f"/>
<rect x="1121.6" y="1319.9" width="48.38" height="51.99" fill="#dd5f0c"/>
<rect x="1169.6" y="1319.9" width="48.38" height="51.99" fill="#f88b22"/>
<rect x="1217.7" y="1319.9" width="48.38" height="51.99" fill="#ed7215"/>
<rect x="1265.8" y="1319.9" width="48.38" height="51.99" fill="#662506"/>
<rect x="1313.9" y="1319.9" width="48.38" height="51.99" fill="#e56910"/>
<rect x="1362.0" y="1319.9" width="48.38" height="51.99" fill="#e3660f"/>
<rect x="1410.0" y="1319.9" width="48.38" height="51.99" fill="#e3660f"/>
<rect x="1458.1" y="1319.9" width="48.38" height="51.99" fill="#e56910"/>
<rect x="1506.2" y="1319.9" width="48.38" height="51.99" fill="#dd5f0c"/>
<rect x="1554.3" y="1319.9" width="48.38" height="51.99" fill="#f88b22"/>
<rect x="1602.4" y="1319.9" width="48.38" height="51.99" fill="#d65808"/>
<rect x="1650.4" y="1319.9" width="48.38" height="51.99" fill="#d35406"/>
<rect x="1698.5" y="1319.9" width="48.38" height="51.99" fill="#ce4f03"/>
<rect x="1746.6" y="1319.9" width="48.38" height="51.99" fill="#c84a02"/>
<rect x="1794.7" y="1319.9" width="48.38" height="51.99" fill="#d65808"/>
<rect x="1842.8" y="1319.9" width="48.38" height="51.99" fill="#c34802"/>
<rect x="1890.8" y="1319.9" width="48.38" height="51.99" fill="#fea332"/>
<rect x="1938.9" y="1319.9" width="48.38" height="51.99" fill="#febb47"/>
<rect x="544.6" y="1371.6" width="48.38" height="51.99" fill="#fede86"/>
<rect x="592.7" y="1371.6" width="48.38" height="51.99" fill="#fee390"/>
<rect x="640.8" y="1371.6" width="48.38" height="51.99" fill="#feb541"/>
<rect x="688.8" y="1371.6" width="48.38" height="51.99" fill="#fec24d"/>
<rect x="736.9" y="1371.6" width="48.38" height="51.99" fill="#fec24d"/>
<rect x="785.0" y="1371.6" width="48.38" height="51.99" fill="#e86c12"/>
<rect x="833.1" y="1371.6" width="48.38" height="51.99" fill="#f07818"/>
<rect x="881.2" y="1371.6" width="48.38" height="51.99" fill="#f27f1b"/>
<rect x="929.2" y="1371.6" width="48.38" height="51.99" fill="#e56910"/>
<rect x="977.3" y="1371.6" width="48.38" height="51.99" fill="#e56910"/>
<rect x="1025.4" y="1371.6" width="48.38" height="51.99" fill="#e86c12"/>
<rect x="1073.5" y="1371.6" width="48.38" height="51.99" fill="#e86c12"/>
<rect x="1121.6" y="1371.6" width="48.38" height="51.99" fill="#db5d0b"/>
<rect x="1169.6" y="1371.6" width="48.38" height="51.99" fill="#e86c12"/>
<rect x="1217.7" y="1371.6" width="48.38" height="51.99" fill="#e56910"/>
<rect x="1265.8" y="1371.6" width="48.38" height="51.99" fill="#e56910"/>
<rect x="1313.9" y="1371.6" width="48.38" height="51.99" fill="#662506"/>
<rect x="1362.0" y="1371.6" width="48.38" height="51.99" fill="#dd5f0c"/>
<rect x="1410.0" y="1371.6" width="48.38" height="51.99" fill="#d15205"/>
<rect x="1458.1" y="1371.6" width="48.38" height="51.99" fill="#d65808"/>
<rect x="1506.2" y="1371.6" width="48.38" height="51.99" fill="#d65808"/>
<rect x="1554.3" y="1371.6" width="48.38" height="51.99" fill="#e86c12"/>
<rect x="1602.4" y="1371.6" width="48.38" height="51.99" fill="#d35406"/>
<rect x="1650.4" y="1371.6" width="48.38" height="51.99" fill="#d15205"/>
<rect x="1698.5" y="1371.6" width="48.38" height="51.99" fill="#c84a02"/>
<rect x="1746.6" y="1371.6" width="48.38" height="51.99" fill="#bb4403"/>
<rect x="1794.7" y="1371.6" width="48.38" height="51.99" fill="#d35406"/>
<rect x="1842.8" y="1371.6" width="48.38" height="51.99" fill="#c84a02"/>
<rect x="1890.8" y="1371.6" width="48.38" height="51.99" fill="#f5851f"/>
<rect x="1938.9" y="1371.6" width="48.38" height="51.99" fill="#febb47"/>
<rect x="544.6" y="1423.3" width="48.38" height="51.99" fill="#fee18c"/>
<rect x="592.7" y="1423.3" width="48.38" height="51.99" fill="#fff7be"/>
<rect x="640.8" y="1423.3" width="48.38" height="51.99" fill="#feb541"/>
<rect x="688.8" y="1423.3" width="48.38" height="51.99" fill="#fede86"/>
<rect x="736.9" y="1423.3" width="48.38" height="51.99" fill="#fff2b1"/>
<rect x="785.0" y="1423.3" width="48.38" height="51.99" fill="#feb945"/>
<rect x="833.1" y="1423.3" width="48.38" height="51.99" fill="#f78921"/>
<rect x="881.2" y="1423.3" width="48.38" height="51.99" fill="#e56910"/>
<rect x="929.2" y="1423.3" width="48.38" height="51.99" fill="#f88b22"/>
<rect x="977.3" y="1423.3" width="48.38" height="51.99" fill="#fec24d"/>
<rect x="1025.4" y="1423.3" width="48.38" height="51.99" fill="#dd5f0c"/>
<rect x="1073.5" y="1423.3" width="48.38" height="51.99" fill="#cb4b02"/>
<rect x="1121.6" y="1423.3" width="48.38" height="51.99" fill="#f07818"/>
<rect x="1169.6" y="1423.3" width="48.38" height="51.99" fill="#dd5f0c"/>
<rect x="1217.7" y="1423.3" width="48.38" height="51.99" fill="#cb4b02"/>
<rect x="1265.8" y="1423.3" width="48.38" height="51.99" fill="#e3660f"/>
<rect x="1313.9" y="1423.3" width="48.38" height="51.99" fill="#dd5f0c"/>
<rect x="1362.0" y="1423.3" width="48.38" height="51.99" fill="#662506"/>
<rect x="1410.0" y="1423.3" width="48.38" height="51.99" fill="#d35406"/>
<rect x="1458.1" y="1423.3" width="48.38" height="51.99" fill="#d65808"/>
<rect x="1506.2" y="1423.3" width="48.38" height="51.99" fill="#e3660f"/>
<rect x="1554.3" y="1423.3" width="48.38" height="51.99" fill="#f5851f"/>
<rect x="1602.4" y="1423.3" width="48.38" height="51.99" fill="#d65808"/>
<rect x="1650.4" y="1423.3" width="48.38" height="51.99" fill="#cb4b02"/>
<rect x="1698.5" y="1423.3" width="48.38" height="51.99" fill="#ce4f03"/>
<rect x="1746.6" y="1423.3" width="48.38" height="51.99" fill="#c84a02"/>
<rect x="1794.7" y="1423.3" width="48.38" height="51.99" fill="#cb4b02"/>
<rect x="1842.8" y="1423.3" width="48.38" height="51.99" fill="#ce4f03"/>
<rect x="1890.8" y="1423.3" width="48.38" height="51.99" fill="#f5851f"/>
<rect x="1938.9" y="1423.3" width="48.38" height="51.99" fill="#fea332"/>
<rect x="544.6" y="1475.0" width="48.38" height="51.99" fill="#fea736"/>
<rect x="592.7" y="1475.0" width="48.38" height="51.99" fill="#fea736"/>
<rect x="640.8" y="1475.0" width="48.38" height="51.99" fill="#febb47"/>
<rect x="688.8" y="1475.0" width="48.38" height="51.99" fill="#feaa38"/>
<rect x="736.9" y="1475.0" width="48.38" height="51.99" fill="#febf4b"/>
<rect x="785.0" y="1475.0" width="48.38" height="51.99" fill="#d35406"/>
<rect x="833.1" y="1475.0" width="48.38" height="51.99" fill="#d65808"/>
<rect x="881.2" y="1475.0" width="48.38" height="51.99" fill="#ea6e13"/>
<rect x="929.2" y="1475.0" width="48.38" height="51.99" fill="#ea6e13"/>
<rect x="977.3" y="1475.0" width="48.38" height="51.99" fill="#e56910"/>
<rect x="1025.4" y="1475.0" width="48.38" height="51.99" fill="#d35406"/>
<rect x="1073.5" y="1475.0" width="48.38" height="51.99" fill="#e3660f"/>
<rect x="1121.6" y="1475.0" width="48.38" height="51.99" fill="#ea6e13"/>
<rect x="1169.6" y="1475.0" width="48.38" height="51.99" fill="#db5d0b"/>
<rect x="1217.7" y="1475.0" width="48.38" height="51.99" fill="#e56910"/>
<rect x="1265.8" y="1475.0" width="48.38" height="51.99" fill="#e3660f"/>
<rect x="1313.9" y="1475.0" width="48.38" height="51.99" fill="#d15205"/>
<rect x="1362.0" y="1475.0" width="48.38" height="51.99" fill="#d35406"/>
<rect x="1410.0" y="1475.0" width="48.38" height="51.99" fill="#662506"/>
<rect x="1458.1" y="1475.0" width="48.38" height="51.99" fill="#fea332"/>
<rect x="1506.2" y="1475.0" width="48.38" height="51.99" fill="#f5851f"/>
<rect x="1554.3" y="1475.0" width="48.38" height="51.99" fill="#ee7416"/>
<rect x="1602.4" y="1475.0" width="48.38" height="51.99" fill="#fa8f24"/>
<rect x="1650.4" y="1475.0" width="48.38" height="51.99" fill="#feaa38"/>
<rect x="1698.5" y="1475.0" width="48.38" height="51.99" fill="#feaa38"/>
<rect x="1746.6" y="1475.0" width="48.38" height="51.99" fill="#febb47"/>
<rect x="1794.7" y="1475.0" width="48.38" height="51.99" fill="#feae3b"/>
<rect x="1842.8" y="1475.0" width="48.38" height="51.99" fill="#feaa38"/>
<rect x="1890.8" y="1475.0" width="48.38" height="51.99" fill="#fd9627"/>
<rect x="1938.9" y="1475.0" width="48.38" height="51.99" fill="#fa8f24"/>
<rect x="544.6" y="1526.7" width="48.38" height="51.99" fill="#febb47"/>
<rect x="592.7" y="1526.7" width="48.38" height="51.99" fill="#feb945"/>
<rect x="640.8" y="1526.7" width="48.38" height="51.99" fill="#fec857"/>
<rect x="688.8" y="1526.7" width="48.38" height="51.99" fill="#febb47"/>
<rect x="736.9" y="1526.7" width="48.38" height="51.99" fill="#fed471"/>
<rect x="785.0" y="1526.7" width="48.38" height="51.99" fill="#e56910"/>
<rect x="833.1" y="1526.7" width="48.38" height="51.99" fill="#dd5f0c"/>
<rect x="881.2" y="1526.7" width="48.38" height="51.99" fill="#ed7215"/>
<rect x="929.2" y="1526.7" width="48.38" height="51.99" fill="#f07818"/>
<rect x="977.3" y="1526.7" width="48.38" height="51.99" fill="#dd5f0c"/>
<rect x="1025.4" y="1526.7" width="48.38" height="51.99" fill="#dd5f0c"/>
<rect x="1073.5" y="1526.7" width="48.38" height="51.99" fill="#d65808"/>
<rect x="1121.6" y="1526.7" width="48.38" height="51.99" fill="#ed7215"/>
<rect x="1169.6" y="1526.7" width="48.38" height="51.99" fill="#e56910"/>
<rect x="1217.7" y="1526.7" width="48.38" height="51.99" fill="#db5d0b"/>
<rect x="1265.8" y="1526.7" width="48.38" height="51.99" fill="#e56910"/>
<rect x="1313.9" y="1526.7" width="48.38" height="51.99" fill="#d65808"/>
<rect x="1362.0" y="1526.7" width="48.38" height="51.99" fill="#d65808"/>
<rect x="1410.0" y="1526.7" width="48.38" height="51.99" fill="#fea332"/>
<rect x="1458.1" y="1526.7" width="48.38" height="51.99" fill="#662506"/>
<rect x="1506.2" y="1526.7" width="48.38" height="51.99" fill="#f78921"/>
<rect x="1554.3" y="1526.7" width="48.38" height="51.99" fill="#f78921"/>
<rect x="1602.4" y="1526.7" width="48.38" height="51.99" fill="#fe9829"/>
<rect x="1650.4" y="1526.7" width="48.38" height="51.99" fill="#fe9829"/>
<rect x="1698.5" y="1526.7" width="48.38" height="51.99" fill="#fea736"/>
<rect x="1746.6" y="1526.7" width="48.38" height="51.99" fill="#fea736"/>
<rect x="1794.7" y="1526.7" width="48.38" height="51.99" fill="#fea736"/>
<rect x="1842.8" y="1526.7" width="48.38" height="51.99" fill="#feb541"/>
<rect x="1890.8" y="1526.7" width="48.38" height="51.99" fill="#feb541"/>
<rect x="1938.9" y="1526.7" width="48.38" height="51.99" fill="#fe9829"/>
<rect x="544.6" y="1578.4" width="48.38" height="51.99" fill="#fec857"/>
<rect x="592.7" y="1578.4" width="48.38" height="51.99" fill="#fecc61"/>
<rect x="640.8" y="1578.4" width="48.38" height="51.99" fill="#feb541"/>
<rect x="688.8" y="1578.4" width="48.38" height="51.99" fill="#fecc61"/>
<rect x="736.9" y="1578.4" width="48.38" height="51.99" fill="#fee799"/>
<rect x="785.0" y="1578.4" width="48.38" height="51.99" fill="#f4821d"/>
<rect x="833.1" y="1578.4" width="48.38" height="51.99" fill="#f4821d"/>
<rect x="881.2" y="1578.4" width="48.38" height="51.99" fill="#f17b1a"/>
<rect x="929.2" y="1578.4" width="48.38" height="51.99" fill="#f07818"/>
<rect x="977.3" y="1578.4" width="48.38" height="51.99" fill="#e56910"/>
<rect x="1025.4" y="1578.4" width="48.38" height="51.99" fill="#db5d0b"/>
<rect x="1073.5" y="1578.4" width="48.38" height="51.99" fill="#cb4b02"/>
<rect x="1121.6" y="1578.4" width="48.38" height="51.99" fill="#fe9829"/>
<rect x="1169.6" y="1578.4" width="48.38" height="51.99" fill="#e56910"/>
<rect x="1217.7" y="1578.4" width="48.38" height="51.99" fill="#cb4b02"/>
<rect x="1265.8" y="1578.4" width="48.38" height="51.99" fill="#dd5f0c"/>
<rect x="1313.9" y="1578.4" width="48.38" height="51.99" fill="#d65808"/>
<rect x="1362.0" y="1578.4" width="48.38" height="51.99" fill="#e3660f"/>
<rect x="1410.0" y="1578.4" width="48.38" height="51.99" fill="#f5851f"/>
<rect x="1458.1" y="1578.4" width="48.38" height="51.99" fill="#f78921"/>
<rect x="1506.2" y="1578.4" width="48.38" height="51.99" fill="#662506"/>
<rect x="1554.3" y="1578.4" width="48.38" height="51.99" fill="#f88b22"/>
<rect x="1602.4" y="1578.4" width="48.38" height="51.99" fill="#f88b22"/>
<rect x="1650.4" y="1578.4" width="48.38" height="51.99" fill="#ed7215"/>
<rect x="1698.5" y="1578.4" width="48.38" height="51.99" fill="#f4821d"/>
<rect x="1746.6" y="1578.4" width="48.38" height="51.99" fill="#f17b1a"/>
<rect x="1794.7" y="1578.4" width="48.38" height="51.99" fill="#f4821d"/>
<rect x="1842.8" y="1578.4" width="48.38" height="51.99" fill="#f78921"/>
<rect x="1890.8" y="1578.4" width="48.38" height="51.99" fill="#f88b22"/>
<rect x="1938.9" y="1578.4" width="48.38" height="51.99" fill="#fea332"/>
<rect x="544.6" y="1630.1" width="48.38" height="51.99" fill="#fec857"/>
<rect x="592.7" y="1630.1" width="48.38" height="51.99" fill="#fec857"/>
<rect x="640.8" y="1630.1" width="48.38" height="51.99" fill="#fea332"/>
<rect x="688.8" y="1630.1" width="48.38" height="51.99" fill="#feb541"/>
<rect x="736.9" y="1630.1" width="48.38" height="51.99" fill="#fecc61"/>
<rect x="785.0" y="1630.1" width="48.38" height="51.99" fill="#f4821d"/>
<rect x="833.1" y="1630.1" width="48.38" height="51.99" fill="#ed7215"/>
<rect x="881.2" y="1630.1" width="48.38" height="51.99" fill="#f17b1a"/>
<rect x="929.2" y="1630.1" width="48.38" height="51.99" fill="#fa8f24"/>
<rect x="977.3" y="1630.1" width="48.38" height="51.99" fill="#f78921"/>
<rect x="1025.4" y="1630.1" width="48.38" height="51.99" fill="#ee7416"/>
<rect x="1073.5" y="1630.1" width="48.38" height="51.99" fill="#e56910"/>
<rect x="1121.6" y="1630.1" width="48.38" height="51.99" fill="#e86c12"/>
<rect x="1169.6" y="1630.1" width="48.38" height="51.99" fill="#f88b22"/>
<rect x="1217.7" y="1630.1" width="48.38" height="51.99" fill="#e56910"/>
<rect x="1265.8" y="1630.1" width="48.38" height="51.99" fill="#f88b22"/>
<rect x="1313.9" y="1630.1" width="48.38" height="51.99" fill="#e86c12"/>
<rect x="1362.0" y="1630.1" width="48.38" height="51.99" fill="#f5851f"/>
<rect x="1410.0" y="1630.1" width="48.38" height="51.99" fill="#ee7416"/>
<rect x="1458.1" y="1630.1" width="48.38" height="51.99" fill="#f78921"/>
<rect x="1506.2" y="1630.1" width="48.38" height="51.99" fill="#f88b22"/>
<rect x="1554.3" y="1630.1" width="48.38" height="51.99" fill="#662506"/>
<rect x="1602.4" y="1630.1" width="48.38" height="51.99" fill="#f27f1b"/>
<rect x="1650.4" y="1630.1" width="48.38" height="51.99" fill="#e56910"/>
<rect x="1698.5" y="1630.1" width="48.38" height="51.99" fill="#ee7416"/>
<rect x="1746.6" y="1630.1" width="48.38" height="51.99" fill="#ed7215"/>
<rect x="1794.7" y="1630.1" width="48.38" height="51.99" fill="#ee7416"/>
<rect x="1842.8" y="1630.1" width="48.38" height="51.99" fill="#ee7416"/>
<rect x="1890.8" y="1630.1" width="48.38" height="51.99" fill="#f78921"/>
<rect x="1938.9" y="1630.1" width="48.38" height="51.99" fill="#fea332"/>
<rect x="544.6" y="1681.8" width="48.38" height="51.99" fill="#feb945"/>
<rect x="592.7" y="1681.8" width="48.38" height="51.99" fill="#fec24d"/>
<rect x="640.8" y="1681.8" width="48.38" height="51.99" fill="#fec857"/>
<rect x="688.8" y="1681.8" width="48.38" height="51.99" fill="#fec24d"/>
<rect x="736.9" y="1681.8" width="48.38" height="51.99" fill="#fed778"/>
<rect x="785.0" y="1681.8" width="48.38" height="51.99" fill="#e56910"/>
<rect x="833.1" y="1681.8" width="48.38" height="51.99" fill="#dd5f0c"/>
<rect x="881.2" y="1681.8" width="48.38" height="51.99" fill="#ea6e13"/>
<rect x="929.2" y="1681.8" width="48.38" height="51.99" fill="#d35406"/>
<rect x="977.3" y="1681.8" width="48.38" height="51.99" fill="#e56910"/>
<rect x="1025.4" y="1681.8" width="48.38" height="51.99" fill="#db5d0b"/>
<rect x="1073.5" y="1681.8" width="48.38" height="51.99" fill="#d35406"/>
<rect x="1121.6" y="1681.8" width="48.38" height="51.99" fill="#d65808"/>
<rect x="1169.6" y="1681.8" width="48.38" height="51.99" fill="#cb4b02"/>
<rect x="1217.7" y="1681.8" width="48.38" height="51.99" fill="#d35406"/>
<rect x="1265.8" y="1681.8" width="48.38" height="51.99" fill="#d65808"/>
<rect x="1313.9" y="1681.8" width="48.38" height="51.99" fill="#d35406"/>
<rect x="1362.0" y="1681.8" width="48.38" height="51.99" fill="#d65808"/>
<rect x="1410.0" y="1681.8" width="48.38" height="51.99" fill="#fa8f24"/>
<rect x="1458.1" y="1681.8" width="48.38" height="51.99" fill="#fe9829"/>
<rect x="1506.2" y="1681.8" width="48.38" height="51.99" fill="#f88b22"/>
<rect x="1554.3" y="1681.8" width="48.38" height="51.99" fill="#f27f1b"/>
<rect x="1602.4" y="1681.8" width="48.38" height="51.99" fill="#662506"/>
<rect x="1650.4" y="1681.8" width="48.38" height="51.99" fill="#f17b1a"/>
<rect x="1698.5" y="1681.8" width="48.38" height="51.99" fill="#f78921"/>
<rect x="1746.6" y="1681.8" width="48.38" height="51.99" fill="#f78921"/>
<rect x="1794.7" y="1681.8" width="48.38" height="51.99" fill="#f78921"/>
<rect x="1842.8" y="1681.8" width="48.38" height="51.99" fill="#fa8f24"/>
<rect x="1890.8" y="1681.8" width="48.38" height="51.99" fill="#fea736"/>
<rect x="1938.9" y="1681.8" width="48.38" height="51.99" fill="#fea736"/>
<rect x="544.6" y="1733.5" width="48.38" height="51.99" fill="#fea736"/>
<rect x="592.7" y="1733.5" width="48.38" height="51.99" fill="#feaa38"/>
<rect x="640.8" y="1733.5" width="48.38" height="51.99" fill="#fec24d"/>
<rect x="688.8" y="1733.5" width="48.38" height="51.99" fill="#fea332"/>
<rect x="736.9" y="1733.5" width="48.38" height="51.99" fill="#fec24d"/>
<rect x="785.0" y="1733.5" width="48.38" height="51.99" fill="#d15205"/>
<rect x="833.1" y="1733.5" width="48.38" height="51.99" fill="#d15205"/>
<rect x="881.2" y="1733.5" width="48.38" height="51.99" fill="#dd5f0c"/>
<rect x="929.2" y="1733.5" width="48.38" height="51.99" fill="#ea6e13"/>
<rect x="977.3" y="1733.5" width="48.38" height="51.99" fill="#dd5f0c"/>
<rect x="1025.4" y="1733.5" width="48.38" height="51.99" fill="#ce4f03"/>
<rect x="1073.5" y="1733.5" width="48.38" height="51.99" fill="#db5d0b"/>
<rect x="1121.6" y="1733.5" width="48.38" height="51.99" fill="#e3660f"/>
<rect x="1169.6" y="1733.5" width="48.38" height="51.99" fill="#db5d0b"/>
<rect x="1217.7" y="1733.5" width="48.38" height="51.99" fill="#db5d0b"/>
<rect x="1265.8" y="1733.5" width="48.38" height="51.99" fill="#d35406"/>
<rect x="1313.9" y="1733.5" width="48.38" height="51.99" fill="#d15205"/>
<rect x="1362.0" y="1733.5" width="48.38" height="51.99" fill="#cb4b02"/>
<rect x="1410.0" y="1733.5" width="48.38" height="51.99" fill="#feaa38"/>
<rect x="1458.1" y="1733.5" width="48.38" height="51.99" fill="#fe9829"/>
<rect x="1506.2" y="1733.5" width="48.38" height="51.99" fill="#ed7215"/>
<rect x="1554.3" y="1733.5" width="48.38" height="51.99" fill="#e56910"/>
<rect x="1602.4" y="1733.5" width="48.38" height="51.99" fill="#f17b1a"/>
<rect x="1650.4" y="1733.5" width="48.38" height="51.99" fill="#662506"/>
<rect x="1698.5" y="1733.5" width="48.38" height="51.99" fill="#fea736"/>
<rect x="1746.6" y="1733.5" width="48.38" height="51.99" fill="#fea736"/>
<rect x="1794.7" y="1733.5" width="48.38" height="51.99" fill="#feb945"/>
<rect x="1842.8" y="1733.5" width="48.38" height="51.99" fill="#fea332"/>
<rect x="1890.8" y="1733.5" width="48.38" height="51.99" fill="#fea332"/>
<rect x="1938.9" y="1733.5" width="48.38" height="51.99" fill="#fea332"/>
<rect x="544.6" y="1785.2" width="48.38" height="51.99" fill="#fec24d"/>
<rect x="592.7" y="1785.2" width="48.38" height="51.99" fill="#fea736"/>
<rect x="640.8" y="1785.2" width="48.38" height="51.99" fill="#feb541"/>
<rect x="688.8" y="1785.2" width="48.38" height="51.99" fill="#fea332"/>
<rect x="736.9" y="1785.2" width="48.38" height="51.99" fill="#fec24d"/>
<rect x="785.0" y="1785.2" width="48.38" height="51.99" fill="#ed7215"/>
<rect x="833.1" y="1785.2" width="48.38" height="51.99" fill="#dd5f0c"/>
<rect x="881.2" y="1785.2" width="48.38" height="51.99" fill="#e56910"/>
<rect x="929.2" y="1785.2" width="48.38" height="51.99" fill="#ed7215"/>
<rect x="977.3" y="1785.2" width="48.38" height="51.99" fill="#e56910"/>
<rect x="1025.4" y="1785.2" width="48.38" height="51.99" fill="#d65808"/>
<rect x="1073.5" y="1785.2" width="48.38" height="51.99" fill="#c84a02"/>
<rect x="1121.6" y="1785.2" width="48.38" height="51.99" fill="#e86c12"/>
<rect x="1169.6" y="1785.2" width="48.38" height="51.99" fill="#db5d0b"/>
<rect x="1217.7" y="1785.2" width="48.38" height="51.99" fill="#c84a02"/>
<rect x="1265.8" y="1785.2" width="48.38" height="51.99" fill="#ce4f03"/>
<rect x="1313.9" y="1785.2" width="48.38" height="51.99" fill="#c84a02"/>
<rect x="1362.0" y="1785.2" width="48.38" height="51.99" fill="#ce4f03"/>
<rect x="1410.0" y="1785.2" width="48.38" height="51.99" fill="#feaa38"/>
<rect x="1458.1" y="1785.2" width="48.38" height="51.99" fill="#fea736"/>
<rect x="1506.2" y="1785.2" width="48.38" height="51.99" fill="#f4821d"/>
<rect x="1554.3" y="1785.2" width="48.38" height="51.99" fill="#ee7416"/>
<rect x="1602.4" y="1785.2" width="48.38" height="51.99" fill="#f78921"/>
<rect x="1650.4" y="1785.2" width="48.38" height="51.99" fill="#fea736"/>
<rect x="1698.5" y="1785.2" width="48.38" height="51.99" fill="#662506"/>
<rect x="1746.6" y="1785.2" width="48.38" height="51.99" fill="#fea736"/>
<rect x="1794.7" y="1785.2" width="48.38" height="51.99" fill="#feaa38"/>
<rect x="1842.8" y="1785.2" width="48.38" height="51.99" fill="#feb945"/>
<rect x="1890.8" y="1785.2" width="48.38" height="51.99" fill="#fea332"/>
<rect x="1938.9" y="1785.2" width="48.38" height="51.99" fill="#f5851f"/>
<rect x="544.6" y="1836.8" width="48.38" height="51.99" fill="#febf4b"/>
<rect x="592.7" y="1836.8" width="48.38" height="51.99" fill="#fea332"/>
<rect x="640.8" y="1836.8" width="48.38" height="51.99" fill="#feb541"/>
<rect x="688.8" y="1836.8" width="48.38" height="51.99" fill="#fea332"/>
<rect x="736.9" y="1836.8" width="48.38" height="51.99" fill="#fec24d"/>
<rect x="785.0" y="1836.8" width="48.38" height="51.99" fill="#e3660f"/>
<rect x="833.1" y="1836.8" width="48.38" height="51.99" fill="#d15205"/>
<rect x="881.2" y="1836.8" width="48.38" height="51.99" fill="#e56910"/>
<rect x="929.2" y="1836.8" width="48.38" height="51.99" fill="#e86c12"/>
<rect x="977.3" y="1836.8" width="48.38" height="51.99" fill="#dd5f0c"/>
<rect x="1025.4" y="1836.8" width="48.38" height="51.99" fill="#ce4f03"/>
<rect x="1073.5" y="1836.8" width="48.38" height="51.99" fill="#c04602"/>
<rect x="1121.6" y="1836.8" width="48.38" height="51.99" fill="#e3660f"/>
<rect x="1169.6" y="1836.8" width="48.38" height="51.99" fill="#d65808"/>
<rect x="1217.7" y="1836.8" width="48.38" height="51.99" fill="#c84a02"/>
<rect x="1265.8" y="1836.8" width="48.38" height="51.99" fill="#c84a02"/>
<rect x="1313.9" y="1836.8" width="48.38" height="51.99" fill="#bb4403"/>
<rect x="1362.0" y="1836.8" width="48.38" height="51.99" fill="#c84a02"/>
<rect x="1410.0" y="1836.8" width="48.38" height="51.99" fill="#febb47"/>
<rect x="1458.1" y="1836.8" width="48.38" height="51.99" fill="#fea736"/>
<rect x="1506.2" y="1836.8" width="48.38" height="51.99" fill="#f17b1a"/>
<rect x="1554.3" y="1836.8" width="48.38" height="51.99" fill="#ed7215"/>
<rect x="1602.4" y="1836.8" width="48.38" height="51.99" fill="#f78921"/>
<rect x="1650.4" y="1836.8" width="48.38" height="51.99" fill="#fea736"/>
<rect x="1698.5" y="1836.8" width="48.38" height="51.99" fill="#fea736"/>
<rect x="1746.6" y="1836.8" width="48.38" height="51.99" fill="#662506"/>
<rect x="1794.7" y="1836.8" width="48.38" height="51.99" fill="#fea736"/>
<rect x="1842.8" y="1836.8" width="48.38" height="51.99" fill="#fea736"/>
<rect x="1890.8" y="1836.8" width="48.38" height="51.99" fill="#fe9829"/>
<rect x="1938.9" y="1836.8" width="48.38" height="51.99" fill="#f5851f"/>
<rect x="544.6" y="1888.5" width="48.38" height="51.99" fill="#fea736"/>
<rect x="592.7" y="1888.5" width="48.38" height="51.99" fill="#feae3b"/>
<rect x="640.8" y="1888.5" width="48.38" height="51.99" fill="#fec24d"/>
<rect x="688.8" y="1888.5" width="48.38" height="51.99" fill="#fea332"/>
<rect x="736.9" y="1888.5" width="48.38" height="51.99" fill="#fec857"/>
<rect x="785.0" y="1888.5" width="48.38" height="51.99" fill="#d15205"/>
<rect x="833.1" y="1888.5" width="48.38" height="51.99" fill="#d15205"/>
<rect x="881.2" y="1888.5" width="48.38" height="51.99" fill="#e56910"/>
<rect x="929.2" y="1888.5" width="48.38" height="51.99" fill="#e86c12"/>
<rect x="977.3" y="1888.5" width="48.38" height="51.99" fill="#dd5f0c"/>
<rect x="1025.4" y="1888.5" width="48.38" height="51.99" fill="#d15205"/>
<rect x="1073.5" y="1888.5" width="48.38" height="51.99" fill="#d35406"/>
<rect x="1121.6" y="1888.5" width="48.38" height="51.99" fill="#e56910"/>
<rect x="1169.6" y="1888.5" width="48.38" height="51.99" fill="#d65808"/>
<rect x="1217.7" y="1888.5" width="48.38" height="51.99" fill="#d35406"/>
<rect x="1265.8" y="1888.5" width="48.38" height="51.99" fill="#d65808"/>
<rect x="1313.9" y="1888.5" width="48.38" height="51.99" fill="#d35406"/>
<rect x="1362.0" y="1888.5" width="48.38" height="51.99" fill="#cb4b02"/>
<rect x="1410.0" y="1888.5" width="48.38" height="51.99" fill="#feae3b"/>
<rect x="1458.1" y="1888.5" width="48.38" height="51.99" fill="#fea736"/>
<rect x="1506.2" y="1888.5" width="48.38" height="51.99" fill="#f4821d"/>
<rect x="1554.3" y="1888.5" width="48.38" height="51.99" fill="#ee7416"/>
<rect x="1602.4" y="1888.5" width="48.38" height="51.99" fill="#f78921"/>
<rect x="1650.4" y="1888.5" width="48.38" height="51.99" fill="#feb945"/>
<rect x="1698.5" y="1888.5" width="48.38" height="51.99" fill="#feaa38"/>
<rect x="1746.6" y="1888.5" width="48.38" height="51.99" fill="#fea736"/>
<rect x="1794.7" y="1888.5" width="48.38" height="51.99" fill="#662506"/>
<rect x="1842.8" y="1888.5" width="48.38" height="51.99" fill="#feaa38"/>
<rect x="1890.8" y="1888.5" width="48.38" height="51.99" fill="#fea736"/>
<rect x="1938.9" y="1888.5" width="48.38" height="51.99" fill="#fa8f24"/>
<rect x="544.6" y="1940.2" width="48.38" height="51.99" fill="#fec24d"/>
<rect x="592.7" y="1940.2" width="48.38" height="51.99" fill="#feae3b"/>
<rect x="640.8" y="1940.2" width="48.38" height="51.99" fill="#fec24d"/>
<rect x="688.8" y="1940.2" width="48.38" height="51.99" fill="#fea736"/>
<rect x="736.9" y="1940.2" width="48.38" height="51.99" fill="#fecc61"/>
<rect x="785.0" y="1940.2" width="48.38" height="51.99" fill="#ed7215"/>
<rect x="833.1" y="1940.2" width="48.38" height="51.99" fill="#d35406"/>
<rect x="881.2" y="1940.2" width="48.38" height="51.99" fill="#dd5f0c"/>
<rect x="929.2" y="1940.2" width="48.38" height="51.99" fill="#ed7215"/>
<rect x="977.3" y="1940.2" width="48.38" height="51.99" fill="#dd5f0c"/>
<rect x="1025.4" y="1940.2" width="48.38" height="51.99" fill="#d15205"/>
<rect x="1073.5" y="1940.2" width="48.38" height="51.99" fill="#c04602"/>
<rect x="1121.6" y="1940.2" width="48.38" height="51.99" fill="#e86c12"/>
<rect x="1169.6" y="1940.2" width="48.38" height="51.99" fill="#d65808"/>
<rect x="1217.7" y="1940.2" width="48.38" height="51.99" fill="#c84a02"/>
<rect x="1265.8" y="1940.2" width="48.38" height="51.99" fill="#c34802"/>
<rect x="1313.9" y="1940.2" width="48.38" height="51.99" fill="#c84a02"/>
<rect x="1362.0" y="1940.2" width="48.38" height="51.99" fill="#ce4f03"/>
<rect x="1410.0" y="1940.2" width="48.38" height="51.99" fill="#feaa38"/>
<rect x="1458.1" y="1940.2" width="48.38" height="51.99" fill="#feb541"/>
<rect x="1506.2" y="1940.2" width="48.38" height="51.99" fill="#f78921"/>
<rect x="1554.3" y="1940.2" width="48.38" height="51.99" fill="#ee7416"/>
<rect x="1602.4" y="1940.2" width="48.38" height="51.99" fill="#fa8f24"/>
<rect x="1650.4" y="1940.2" width="48.38" height="51.99" fill="#fea332"/>
<rect x="1698.5" y="1940.2" width="48.38" height="51.99" fill="#feb945"/>
<rect x="1746.6" y="1940.2" width="48.38" height="51.99" fill="#fea736"/>
<rect x="1794.7" y="1940.2" width="48.38" height="51.99" fill="#feaa38"/>
<rect x="1842.8" y="1940.2" width="48.38" height="51.99" fill="#662506"/>
<rect x="1890.8" y="1940.2" width="48.38" height="51.99" fill="#fea736"/>
<rect x="1938.9" y="1940.2" width="48.38" height="51.99" fill="#f78921"/>
<rect x="544.6" y="1991.9" width="48.38" height="51.99" fill="#feb541"/>
<rect x="592.7" y="1991.9" width="48.38" height="51.99" fill="#fec24d"/>
<rect x="640.8" y="1991.9" width="48.38" height="51.99" fill="#fed778"/>
<rect x="688.8" y="1991.9" width="48.38" height="51.99" fill="#fedc82"/>
<rect x="736.9" y="1991.9" width="48.38" height="51.99" fill="#fec24d"/>
<rect x="785.0" y="1991.9" width="48.38" height="51.99" fill="#f17b1a"/>
<rect x="833.1" y="1991.9" width="48.38" height="51.99" fill="#fa8f24"/>
<rect x="881.2" y="1991.9" width="48.38" height="51.99" fill="#f5851f"/>
<rect x="929.2" y="1991.9" width="48.38" height="51.99" fill="#f78921"/>
<rect x="977.3" y="1991.9" width="48.38" height="51.99" fill="#f78921"/>
<rect x="1025.4" y="1991.9" width="48.38" height="51.99" fill="#fa8f24"/>
<rect x="1073.5" y="1991.9" width="48.38" height="51.99" fill="#f88b22"/>
<rect x="1121.6" y="1991.9" width="48.38" height="51.99" fill="#f4821d"/>
<rect x="1169.6" y="1991.9" width="48.38" height="51.99" fill="#f78921"/>
<rect x="1217.7" y="1991.9" width="48.38" height="51.99" fill="#fa8f24"/>
<rect x="1265.8" y="1991.9" width="48.38" height="51.99" fill="#fea332"/>
<rect x="1313.9" y="1991.9" width="48.38" height="51.99" fill="#f5851f"/>
<rect x="1362.0" y="1991.9" width="48.38" height="51.99" fill="#f5851f"/>
<rect x="1410.0" y="1991.9" width="48.38" height="51.99" fill="#fd9627"/>
<rect x="1458.1" y="1991.9" width="48.38" height="51.99" fill="#feb541"/>
<rect x="1506.2" y="1991.9" width="48.38" height="51.99" fill="#f88b22"/>
<rect x="1554.3" y="1991.9" width="48.38" height="51.99" fill="#f78921"/>
<rect x="1602.4" y="1991.9" width="48.38" height="51.99" fill="#fea736"/>
<rect x="1650.4" y="1991.9" width="48.38" height="51.99" fill="#fea332"/>
<rect x="1698.5" y="1991.9" width="48.38" height="51.99" fill="#fea332"/>
<rect x="1746.6" y="1991.9" width="48.38" height="51.99" fill="#fe9829"/>
<rect x="1794.7" y="1991.9" width="48.38" height="51.99" fill="#fea736"/>
<rect x="1842.8" y="1991.9" width="48.38" height="51.99" fill="#fea736"/>
<rect x="1890.8" y="1991.9" width="48.38" height="51.99" fill="#662506"/>
<rect x="1938.9" y="1991.9" width="48.38" height="51.99" fill="#fec857"/>
<rect x="544.6" y="2043.6" width="48.38" height="51.99" fill="#fedc82"/>
<rect x="592.7" y="2043.6" width="48.38" height="51.99" fill="#fed778"/>
<rect x="640.8" y="2043.6" width="48.38" height="51.99" fill="#fedc82"/>
<rect x="688.8" y="2043.6" width="48.38" height="51.99" fill="#fede86"/>
<rect x="736.9" y="2043.6" width="48.38" height="51.99" fill="#fee18c"/>
<rect x="785.0" y="2043.6" width="48.38" height="51.99" fill="#fea332"/>
<rect x="833.1" y="2043.6" width="48.38" height="51.99" fill="#fea332"/>
<rect x="881.2" y="2043.6" width="48.38" height="51.99" fill="#feae3b"/>
<rect x="929.2" y="2043.6" width="48.38" height="51.99" fill="#fa8f24"/>
<rect x="977.3" y="2043.6" width="48.38" height="51.99" fill="#febb47"/>
<rect x="1025.4" y="2043.6" width="48.38" height="51.99" fill="#fe9829"/>
<rect x="1073.5" y="2043.6" width="48.38" height="51.99" fill="#fa8f24"/>
<rect x="1121.6" y="2043.6" width="48.38" height="51.99" fill="#fe9829"/>
<rect x="1169.6" y="2043.6" width="48.38" height="51.99" fill="#f5851f"/>
<rect x="1217.7" y="2043.6" width="48.38" height="51.99" fill="#fa8f24"/>
<rect x="1265.8" y="2043.6" width="48.38" height="51.99" fill="#febb47"/>
<rect x="1313.9" y="2043.6" width="48.38" height="51.99" fill="#febb47"/>
<rect x="1362.0" y="2043.6" width="48.38" height="51.99" fill="#fea332"/>
<rect x="1410.0" y="2043.6" width="48.38" height="51.99" fill="#fa8f24"/>
<rect x="1458.1" y="2043.6" width="48.38" height="51.99" fill="#fe9829"/>
<rect x="1506.2" y="2043.6" width="48.38" height="51.99" fill="#fea332"/>
<rect x="1554.3" y="2043.6" width="48.38" height="51.99" fill="#fea332"/>
<rect x="1602.4" y="2043.6" width="48.38" height="51.99" fill="#fea736"/>
<rect x="1650.4" y="2043.6" width="48.38" height="51.99" fill="#fea332"/>
<rect x="1698.5" y="2043.6" width="48.38" height="51.99" fill="#f5851f"/>
<rect x="1746.6" y="2043.6" width="48.38" height="51.99" fill="#f5851f"/>
<rect x="1794.7" y="2043.6" width="48.38" height="51.99" fill="#fa8f24"/>
<rect x="1842.8" y="2043.6" width="48.38" height="51.99" fill="#f78921"/>
<rect x="1890.8" y="2043.6" width="48.38" height="51.99" fill="#fec857"/>
<rect x="1938.9" y="2043.6" width="48.38" height="51.99" fill="#662506"/>
<path d="M544.6 542.1V2097.8M542.1 544.6H1989.5M592.7 542.1V2097.8M542.1 596.3H1989.5M640.8 542.1V2097.8M542.1 648.0H1989.5M688.8 542.1V2097.8M542.1 699.7H1989.5M736.9 542.1V2097.8M542.1 751.4H1989.5M785.0 542.1V2097.8M542.1 803.0H1989.5M833.1 542.1V2097.8M542.1 854.7H1989.5M881.2 542.1V2097.8M542.1 906.4H1989.5M929.2 542.1V2097.8M542.1 958.1H1989.5M977.3 542.1V2097.8M542.1 1009.8H1989.5M1025.4 542.1V2097.8M542.1 1061.5H1989.5M1073.5 542.1V2097.8M542.1 1113.2H1989.5M1121.6 542.1V2097.8M542.1 1164.9H1989.5M1169.6 542.1V2097.8M542.1 1216.6H1989.5M1217.7 542.1V2097.8M542.1 1268.3H1989.5M1265.8 542.1V2097.8M542.1 1319.9H1989.5M1313.9 542.1V2097.8M542.1 1371.6H1989.5M1362.0 542.1V2097.8M542.1 1423.3H1989.5M1410.0 542.1V2097.8M542.1 1475.0H1989.5M1458.1 542.1V2097.8M542.1 1526.7H1989.5M1506.2 542.1V2097.8M542.1 1578.4H1989.5M1554.3 542.1V2097.8M542.1 1630.1H1989.5M1602.4 542.1V2097.8M542.1 1681.8H1989.5M1650.4 542.1V2097.8M542.1 1733.5H1989.5M1698.5 542.1V2097.8M542.1 1785.2H1989.5M1746.6 542.1V2097.8M542.1 1836.8H1989.5M1794.7 542.1V2097.8M542.1 1888.5H1989.5M1842.8 542.1V2097.8M542.1 1940.2H1989.5M1890.8 542.1V2097.8M542.1 1991.9H1989.5M1938.9 542.1V2097.8M542.1 2043.6H1989.5M1987.0 542.1V2097.8M542.1 2095.3H1989.5" stroke="#000" stroke-width="5.0" fill="none"/>
<path d="M568.6 542.5V253.2H616.7V542.5M664.8 542.5V281.8H712.9V542.5M688.8 281.8V255.7H761.0V542.5M592.7 253.2V189.8H724.9V255.7M809.0 538.0V388.3H857.1V538.0M905.2 538.0V400.0H953.3V538.0M833.1 388.3V376.9H929.2V400.0M881.2 376.9V336.6H1001.4V542.5M1049.4 538.0V376.9H1097.5V538.0M1145.6 538.0V411.7H1193.7V538.0M1169.6 411.7V380.0H1241.8V538.0M1073.5 376.9V354.5H1205.7V380.0M1289.8 538.0V400.0H1337.9V538.0M1313.9 400.0V376.9H1386.0V538.0M1139.6 354.5V340.3H1349.9V376.9M941.3 336.6V316.2H1244.8V340.3M1434.1 542.5V360.3H1482.2V542.5M1530.2 542.5V377.0H1578.3V542.5M1626.4 542.5V391.3H1674.5V542.5M1554.3 377.0V362.8H1650.4V391.3M1458.1 360.3V351.0H1602.4V362.8M1722.6 542.5V368.4H1770.6V542.5M1746.6 368.4V356.9H1818.7V542.5M1782.7 356.9V354.2H1866.8V542.5M1530.2 351.0V334.0H1824.7V354.2M1093.0 316.2V279.4H1677.5V334.0M1914.9 542.5V310.7H1963.0V542.5M1385.2 279.4V239.6H1938.9V310.7M658.8 189.8V2.7H1662.1V239.6" stroke="#000" stroke-width="5.3" fill="none" stroke-linejoin="miter"/>
<path d="M542.5 570.4H253.2V622.1H542.5M542.5 673.8H281.8V725.5H542.5M281.8 699.7H255.7V777.2H542.5M253.2 596.3H189.8V738.4H255.7M538.0 828.9H388.3V880.6H538.0M538.0 932.3H400.0V984.0H538.0M388.3 854.7H376.9V958.1H400.0M376.9 906.4H336.6V1035.7H542.5M538.0 1087.3H376.9V1139.0H538.0M538.0 1190.7H411.7V1242.4H538.0M411.7 1216.6H380.0V1294.1H538.0M376.9 1113.2H354.5V1255.3H380.0M538.0 1345.8H400.0V1397.5H538.0M400.0 1371.6H376.9V1449.2H538.0M354.5 1184.3H340.3V1410.4H376.9M336.6 971.0H316.2V1297.3H340.3M542.5 1500.9H360.3V1552.6H542.5M542.5 1604.2H377.0V1655.9H542.5M542.5 1707.6H391.3V1759.3H542.5M377.0 1630.1H362.8V1733.5H391.3M360.3 1526.7H351.0V1681.8H362.8M542.5 1811.0H368.4V1862.7H542.5M368.4 1836.8H356.9V1914.4H542.5M356.9 1875.6H354.2V1966.1H542.5M351.0 1604.2H334.0V1920.8H354.2M316.2 1134.2H279.4V1762.5H334.0M542.5 2017.8H310.7V2069.5H542.5M279.4 1448.4H239.6V2043.6H310.7M189.8 667.4H2.7V1746.0H239.6" stroke="#000" stroke-width="5.3" fill="none" stroke-linejoin="miter"/>
<path d="M568.6 2097.8V2110.3M616.7 2097.8V2110.3M664.8 2097.8V2110.3M712.9 2097.8V2110.3M761.0 2097.8V2110.3M809.0 2097.8V2110.3M857.1 2097.8V2110.3M905.2 2097.8V2110.3M953.3 2097.8V2110.3M1001.4 2097.8V2110.3M1049.4 2097.8V2110.3M1097.5 2097.8V2110.3M1145.6 2097.8V2110.3M1193.7 2097.8V2110.3M1241.8 2097.8V2110.3M1289.8 2097.8V2110.3M1337.9 2097.8V2110.3M1386.0 2097.8V2110.3M1434.1 2097.8V2110.3M1482.2 2097.8V2110.3M1530.2 2097.8V2110.3M1578.3 2097.8V2110.3M1626.4 2097.8V2110.3M1674.5 2097.8V2110.3M1722.6 2097.8V2110.3M1770.6 2097.8V2110.3M1818.7 2097.8V2110.3M1866.8 2097.8V2110.3M1914.9 2097.8V2110.3M1963.0 2097.8V2110.3M1989.5 570.4H2002.5M1989.5 622.1H2002.5M1989.5 673.8H2002.5M1989.5 725.5H2002.5M1989.5 777.2H2002.5M1989.5 828.9H2002.5M1989.5 880.6H2002.5M1989.5 932.3H2002.5M1989.5 984.0H2002.5M1989.5 1035.7H2002.5M1989.5 1087.3H2002.5M1989.5 1139.0H2002.5M1989.5 1190.7H2002.5M1989.5 1242.4H2002.5M1989.5 1294.1H2002.5M1989.5 1345.8H2002.5M1989.5 1397.5H2002.5M1989.5 1449.2H2002.5M1989.5 1500.9H2002.5M1989.5 1552.6H2002.5M1989.5 1604.2H2002.5M1989.5 1655.9H2002.5M1989.5 1707.6H2002.5M1989.5 1759.3H2002.5M1989.5 1811.0H2002.5M1989.5 1862.7H2002.5M1989.5 1914.4H2002.5M1989.5 1966.1H2002.5M1989.5 2017.8H2002.5M1989.5 2069.5H2002.5" stroke="#000" stroke-width="2.8" fill="none"/>
<text x="2011.3" y="579.1" font-size="37.5">par</text>
<text x="2011.3" y="630.8" font-size="37.5">rrs555.rrs645</text>
<text x="2011.3" y="682.5" font-size="37.5">rrs443.rrs547</text>
<text x="2011.3" y="734.2" font-size="37.5">MLD</text>
<text x="2011.3" y="785.9" font-size="37.5">rrs443.rrs645</text>
<text x="2011.3" y="837.6" font-size="37.5">Rrs_469</text>
<text x="2011.3" y="889.3" font-size="37.5">Rrs412</text>
<text x="2011.3" y="941.0" font-size="37.5">Rrs_645</text>
<text x="2011.3" y="992.7" font-size="37.5">CHL</text>
<text x="2011.3" y="1044.4" font-size="37.5">Rrs_488</text>
<text x="2011.3" y="1096.0" font-size="37.5">SPM</text>
<text x="2011.3" y="1147.7" font-size="37.5">Rrs_547</text>
<text x="2011.3" y="1199.4" font-size="37.5">CI488</text>
<text x="2011.3" y="1251.1" font-size="37.5">SST</text>
<text x="2011.3" y="1302.8" font-size="37.5">Rrs_555</text>
<text x="2011.3" y="1354.5" font-size="37.5">BBP</text>
<text x="2011.3" y="1406.2" font-size="37.5">Rrs_667</text>
<text x="2011.3" y="1457.9" font-size="37.5">Rrs_443</text>
<text x="2011.3" y="1509.6" font-size="37.5">NDCI488</text>
<text x="2011.3" y="1561.3" font-size="37.5">NDCI443</text>
<text x="2011.3" y="1612.9" font-size="37.5">CI443</text>
<text x="2011.3" y="1664.6" font-size="37.5">SSS</text>
<text x="2011.3" y="1716.3" font-size="37.5">BRDI</text>
<text x="2011.3" y="1768.0" font-size="37.5">KD660</text>
<text x="2011.3" y="1819.7" font-size="37.5">rrs469.rrs555</text>
<text x="2011.3" y="1871.4" font-size="37.5">rrs488.rrs555</text>
<text x="2011.3" y="1923.1" font-size="37.5">rrs488.rrs547</text>
<text x="2011.3" y="1974.8" font-size="37.5">rrs469.rrs547</text>
<text x="2011.3" y="2026.5" font-size="37.5">rrs443.rrs555</text>
<text x="2011.3" y="2078.2" font-size="37.5">EUPDEPTH</text>
<text x="577.6" y="2143.5" font-size="37.5" text-anchor="end" transform="rotate(-45 577.6 2143.5)">par</text>
<text x="625.7" y="2143.5" font-size="37.5" text-anchor="end" transform="rotate(-45 625.7 2143.5)">rrs555.rrs645</text>
<text x="673.8" y="2143.5" font-size="37.5" text-anchor="end" transform="rotate(-45 673.8 2143.5)">rrs443.rrs547</text>
<text x="721.9" y="2143.5" font-size="37.5" text-anchor="end" transform="rotate(-45 721.9 2143.5)">MLD</text>
<text x="770.0" y="2143.5" font-size="37.5" text-anchor="end" transform="rotate(-45 770.0 2143.5)">rrs443.rrs645</text>
<text x="818.0" y="2143.5" font-size="37.5" text-anchor="end" transform="rotate(-45 818.0 2143.5)">Rrs_469</text>
<text x="866.1" y="2143.5" font-size="37.5" text-anchor="end" transform="rotate(-45 866.1 2143.5)">Rrs412</text>
<text x="914.2" y="2143.5" font-size="37.5" text-anchor="end" transform="rotate(-45 914.2 2143.5)">Rrs_645</text>
<text x="962.3" y="2143.5" font-size="37.5" text-anchor="end" transform="rotate(-45 962.3 2143.5)">CHL</text>
<text x="1010.4" y="2143.5" font-size="37.5" text-anchor="end" transform="rotate(-45 1010.4 2143.5)">Rrs_488</text>
<text x="1058.4" y="2143.5" font-size="37.5" text-anchor="end" transform="rotate(-45 1058.4 2143.5)">SPM</text>
<text x="1106.5" y="2143.5" font-size="37.5" text-anchor="end" transform="rotate(-45 1106.5 2143.5)">Rrs_547</text>
<text x="1154.6" y="2143.5" font-size="37.5" text-anchor="end" transform="rotate(-45 1154.6 2143.5)">CI488</text>
<text x="1202.7" y="2143.5" font-size="37.5" text-anchor="end" transform="rotate(-45 1202.7 2143.5)">SST</text>
<text x="1250.8" y="2143.5" font-size="37.5" text-anchor="end" transform="rotate(-45 1250.8 2143.5)">Rrs_555</text>
<text x="1298.8" y="2143.5" font-size="37.5" text-anchor="end" transform="rotate(-45 1298.8 2143.5)">BBP</text>
<text x="1346.9" y="2143.5" font-size="37.5" text-anchor="end" transform="rotate(-45 1346.9 2143.5)">Rrs_667</text>
<text x="1395.0" y="2143.5" font-size="37.5" text-anchor="end" transform="rotate(-45 1395.0 2143.5)">Rrs_443</text>
<text x="1443.1" y="2143.5" font-size="37.5" text-anchor="end" transform="rotate(-45 1443.1 2143.5)">NDCI488</text>
<text x="1491.2" y="2143.5" font-size="37.5" text-anchor="end" transform="rotate(-45 1491.2 2143.5)">NDCI443</text>
<text x="1539.2" y="2143.5" font-size="37.5" text-anchor="end" transform="rotate(-45 1539.2 2143.5)">CI443</text>
<text x="1587.3" y="2143.5" font-size="37.5" text-anchor="end" transform="rotate(-45 1587.3 2143.5)">SSS</text>
<text x="1635.4" y="2143.5" font-size="37.5" text-anchor="end" transform="rotate(-45 1635.4 2143.5)">BRDI</text>
<text x="1683.5" y="2143.5" font-size="37.5" text-anchor="end" transform="rotate(-45 1683.5 2143.5)">KD660</text>
<text x="1731.6" y="2143.5" font-size="37.5" text-anchor="end" transform="rotate(-45 1731.6 2143.5)">rrs469.rrs555</text>
<text x="1779.6" y="2143.5" font-size="37.5" text-anchor="end" transform="rotate(-45 1779.6 2143.5)">rrs488.rrs555</text>
<text x="1827.7" y="2143.5" font-size="37.5" text-anchor="end" transform="rotate(-45 1827.7 2143.5)">rrs488.rrs547</text>
<text x="1875.8" y="2143.5" font-size="37.5" text-anchor="end" transform="rotate(-45 1875.8 2143.5)">rrs469.rrs547</text>
<text x="1923.9" y="2143.5" font-size="37.5" text-anchor="end" transform="rotate(-45 1923.9 2143.5)">rrs443.rrs555</text>
<text x="1972.0" y="2143.5" font-size="37.5" text-anchor="end" transform="rotate(-45 1972.0 2143.5)">EUPDEPTH</text>
<defs><linearGradient id="cb" x1="0" y1="0" x2="0" y2="1"><stop offset="0.000" stop-color="#662506"/><stop offset="0.050" stop-color="#792b05"/><stop offset="0.100" stop-color="#8e3104"/><stop offset="0.150" stop-color="#a33904"/><stop offset="0.200" stop-color="#b84203"/><stop offset="0.250" stop-color="#cb4b02"/><stop offset="0.300" stop-color="#d85a09"/><stop offset="0.350" stop-color="#e56910"/><stop offset="0.400" stop-color="#f07818"/><stop offset="0.450" stop-color="#f78921"/><stop offset="0.500" stop-color="#fe9829"/><stop offset="0.550" stop-color="#feaa38"/><stop offset="0.600" stop-color="#febb47"/><stop offset="0.650" stop-color="#feca5d"/><stop offset="0.700" stop-color="#fed778"/><stop offset="0.750" stop-color="#fee390"/><stop offset="0.800" stop-color="#feeba2"/><stop offset="0.850" stop-color="#fff3b4"/><stop offset="0.900" stop-color="#fff9c5"/><stop offset="0.950" stop-color="#fffcd6"/><stop offset="1.000" stop-color="#ffffe5"/></linearGradient></defs>
<rect x="2398" y="701.5" width="54" height="1355.0" fill="url(#cb)"/>
<text x="2378" y="714.8" font-size="43" text-anchor="end">1</text>
<text x="2378" y="1058.2" font-size="43" text-anchor="end">0.8</text>
<text x="2378" y="1401.6" font-size="43" text-anchor="end">0.6</text>
<text x="2378" y="1745.0" font-size="43" text-anchor="end">0.4</text>
<text x="2378" y="2071.2" font-size="43" text-anchor="end">0.21</text>
<path d="M2384 701.2H2398M2384 1044.6H2398M2384 1388.0H2398M2384 1731.4H2398M2384 2057.6H2398" stroke="#000" stroke-width="2.8" fill="none"/>
<text x="2350.2" y="634.6" font-size="47.5" letter-spacing="0.8">q value</text>
</svg></body></html>
